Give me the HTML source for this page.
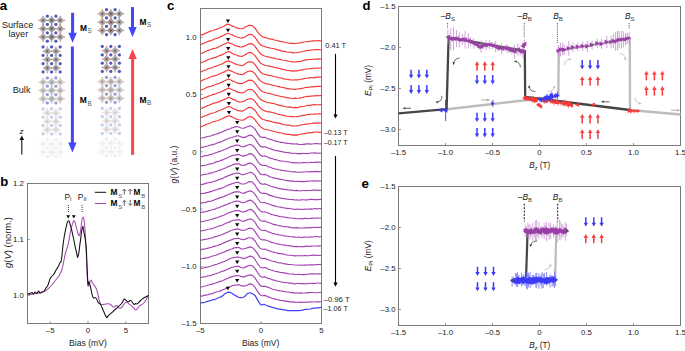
<!DOCTYPE html>
<html><head><meta charset="utf-8"><style>
html,body{margin:0;padding:0;background:#fff;}
body{width:685px;height:351px;overflow:hidden;}
svg{display:block;}
text{font-family:"Liberation Sans",sans-serif;}
</style></head><body>
<svg width="685" height="351" viewBox="0 0 685 351">
<rect width="685" height="351" fill="#fff"/>
<text x="-0.3" y="9.8" font-size="12.5" text-anchor="start" font-weight="bold" fill="#000" font-family="'Liberation Sans', sans-serif"  textLength="7.4" lengthAdjust="spacingAndGlyphs">a</text>
<text x="0.2" y="186.3" font-size="12.5" text-anchor="start" font-weight="bold" fill="#000" font-family="'Liberation Sans', sans-serif"  textLength="8" lengthAdjust="spacingAndGlyphs">b</text>
<text x="167" y="9.9" font-size="12.5" text-anchor="start" font-weight="bold" fill="#000" font-family="'Liberation Sans', sans-serif"  textLength="7.4" lengthAdjust="spacingAndGlyphs">c</text>
<text x="362.6" y="9.5" font-size="12.5" text-anchor="start" font-weight="bold" fill="#000" font-family="'Liberation Sans', sans-serif"  textLength="8" lengthAdjust="spacingAndGlyphs">d</text>
<text x="361.4" y="188" font-size="12.5" text-anchor="start" font-weight="bold" fill="#000" font-family="'Liberation Sans', sans-serif"  textLength="7.4" lengthAdjust="spacingAndGlyphs">e</text>
<text x="1.9" y="27.9" font-size="8.8" text-anchor="start" font-weight="normal" fill="#222" font-family="'Liberation Sans', sans-serif"  textLength="31.4" lengthAdjust="spacingAndGlyphs">Surface</text>
<text x="8.4" y="37" font-size="8.8" text-anchor="start" font-weight="normal" fill="#222" font-family="'Liberation Sans', sans-serif"  textLength="19.8" lengthAdjust="spacingAndGlyphs">layer</text>
<text x="12.7" y="93" font-size="8.8" text-anchor="start" font-weight="normal" fill="#222" font-family="'Liberation Sans', sans-serif"  textLength="17.8" lengthAdjust="spacingAndGlyphs">Bulk</text>
<text x="21.6" y="133.8" font-size="8" text-anchor="middle" font-weight="normal" fill="#111" font-family="'Liberation Sans', sans-serif" font-style="italic">z</text>
<line x1="21.8" y1="154.4" x2="21.8" y2="139" stroke="#111" stroke-width="1.1"/>
<polygon points="19.5,140 24.1,140 21.8,135.6" fill="#111"/>
<defs><radialGradient id="dg" cx="50%" cy="50%" r="62%"><stop offset="0" stop-color="#8c8c8c"/><stop offset="0.5" stop-color="#b0b0b0"/><stop offset="1" stop-color="#d4d4d4"/></radialGradient><radialGradient id="dg2" cx="50%" cy="50%" r="62%"><stop offset="0" stop-color="#767676"/><stop offset="0.5" stop-color="#9e9e9e"/><stop offset="1" stop-color="#c6c6c6"/></radialGradient><radialGradient id="bg" cx="45%" cy="40%" r="60%"><stop offset="0" stop-color="#4d5ec2"/><stop offset="0.55" stop-color="#4a5bbb"/><stop offset="1" stop-color="#9ba6da"/></radialGradient></defs>
<g opacity="1"><circle cx="47.37" cy="16.2" r="1.75" fill="url(#bg)"/><circle cx="55.92" cy="16.2" r="1.75" fill="url(#bg)"/><polygon points="43.1,16.17 47.3,20.37 43.1,24.57 38.9,20.37" fill="url(#dg)"/><circle cx="43.1" cy="20.37" r="0.8" fill="#7a3030"/><ellipse cx="43.1" cy="16.17" rx="0.7" ry="0.5" fill="#e25858"/><ellipse cx="43.1" cy="24.57" rx="0.7" ry="0.5" fill="#e25858"/><ellipse cx="38.9" cy="20.37" rx="0.7" ry="0.5" fill="#e25858"/><ellipse cx="47.3" cy="20.37" rx="0.7" ry="0.5" fill="#e25858"/><polygon points="51.65,16.17 55.85,20.37 51.65,24.57 47.45,20.37" fill="url(#dg2)"/><circle cx="51.65" cy="20.37" r="0.8" fill="#7a3030"/><ellipse cx="51.65" cy="16.17" rx="0.7" ry="0.5" fill="#e25858"/><ellipse cx="51.65" cy="24.57" rx="0.7" ry="0.5" fill="#e25858"/><ellipse cx="47.45" cy="20.37" rx="0.7" ry="0.5" fill="#e25858"/><ellipse cx="55.85" cy="20.37" rx="0.7" ry="0.5" fill="#e25858"/><polygon points="60.2,16.17 64.4,20.37 60.2,24.57 56,20.37" fill="url(#dg)"/><circle cx="60.2" cy="20.37" r="0.8" fill="#7a3030"/><ellipse cx="60.2" cy="16.17" rx="0.7" ry="0.5" fill="#e25858"/><ellipse cx="60.2" cy="24.57" rx="0.7" ry="0.5" fill="#e25858"/><ellipse cx="56" cy="20.37" rx="0.7" ry="0.5" fill="#e25858"/><ellipse cx="64.4" cy="20.37" rx="0.7" ry="0.5" fill="#e25858"/><circle cx="47.37" cy="24.54" r="1.75" fill="url(#bg)"/><circle cx="55.92" cy="24.54" r="1.75" fill="url(#bg)"/><polygon points="43.1,24.51 47.3,28.71 43.1,32.91 38.9,28.71" fill="url(#dg)"/><circle cx="43.1" cy="28.71" r="0.8" fill="#7a3030"/><ellipse cx="43.1" cy="24.51" rx="0.7" ry="0.5" fill="#e25858"/><ellipse cx="43.1" cy="32.91" rx="0.7" ry="0.5" fill="#e25858"/><ellipse cx="38.9" cy="28.71" rx="0.7" ry="0.5" fill="#e25858"/><ellipse cx="47.3" cy="28.71" rx="0.7" ry="0.5" fill="#e25858"/><polygon points="51.65,24.51 55.85,28.71 51.65,32.91 47.45,28.71" fill="url(#dg2)"/><circle cx="51.65" cy="28.71" r="0.8" fill="#7a3030"/><ellipse cx="51.65" cy="24.51" rx="0.7" ry="0.5" fill="#e25858"/><ellipse cx="51.65" cy="32.91" rx="0.7" ry="0.5" fill="#e25858"/><ellipse cx="47.45" cy="28.71" rx="0.7" ry="0.5" fill="#e25858"/><ellipse cx="55.85" cy="28.71" rx="0.7" ry="0.5" fill="#e25858"/><polygon points="60.2,24.51 64.4,28.71 60.2,32.91 56,28.71" fill="url(#dg)"/><circle cx="60.2" cy="28.71" r="0.8" fill="#7a3030"/><ellipse cx="60.2" cy="24.51" rx="0.7" ry="0.5" fill="#e25858"/><ellipse cx="60.2" cy="32.91" rx="0.7" ry="0.5" fill="#e25858"/><ellipse cx="56" cy="28.71" rx="0.7" ry="0.5" fill="#e25858"/><ellipse cx="64.4" cy="28.71" rx="0.7" ry="0.5" fill="#e25858"/><circle cx="47.37" cy="32.88" r="1.75" fill="url(#bg)"/><circle cx="55.92" cy="32.88" r="1.75" fill="url(#bg)"/><polygon points="43.1,32.85 47.3,37.05 43.1,41.25 38.9,37.05" fill="url(#dg)"/><circle cx="43.1" cy="37.05" r="0.8" fill="#7a3030"/><ellipse cx="43.1" cy="32.85" rx="0.7" ry="0.5" fill="#e25858"/><ellipse cx="43.1" cy="41.25" rx="0.7" ry="0.5" fill="#e25858"/><ellipse cx="38.9" cy="37.05" rx="0.7" ry="0.5" fill="#e25858"/><ellipse cx="47.3" cy="37.05" rx="0.7" ry="0.5" fill="#e25858"/><polygon points="51.65,32.85 55.85,37.05 51.65,41.25 47.45,37.05" fill="url(#dg2)"/><circle cx="51.65" cy="37.05" r="0.8" fill="#7a3030"/><ellipse cx="51.65" cy="32.85" rx="0.7" ry="0.5" fill="#e25858"/><ellipse cx="51.65" cy="41.25" rx="0.7" ry="0.5" fill="#e25858"/><ellipse cx="47.45" cy="37.05" rx="0.7" ry="0.5" fill="#e25858"/><ellipse cx="55.85" cy="37.05" rx="0.7" ry="0.5" fill="#e25858"/><polygon points="60.2,32.85 64.4,37.05 60.2,41.25 56,37.05" fill="url(#dg)"/><circle cx="60.2" cy="37.05" r="0.8" fill="#7a3030"/><ellipse cx="60.2" cy="32.85" rx="0.7" ry="0.5" fill="#e25858"/><ellipse cx="60.2" cy="41.25" rx="0.7" ry="0.5" fill="#e25858"/><ellipse cx="56" cy="37.05" rx="0.7" ry="0.5" fill="#e25858"/><ellipse cx="64.4" cy="37.05" rx="0.7" ry="0.5" fill="#e25858"/><circle cx="47.37" cy="41.22" r="1.75" fill="url(#bg)"/><circle cx="55.92" cy="41.22" r="1.75" fill="url(#bg)"/></g>
<g opacity="1"><circle cx="106.57" cy="9.7" r="1.75" fill="url(#bg)"/><circle cx="115.12" cy="9.7" r="1.75" fill="url(#bg)"/><polygon points="102.3,9.67 106.5,13.87 102.3,18.07 98.1,13.87" fill="url(#dg)"/><circle cx="102.3" cy="13.87" r="0.8" fill="#7a3030"/><ellipse cx="102.3" cy="9.67" rx="0.7" ry="0.5" fill="#e25858"/><ellipse cx="102.3" cy="18.07" rx="0.7" ry="0.5" fill="#e25858"/><ellipse cx="98.1" cy="13.87" rx="0.7" ry="0.5" fill="#e25858"/><ellipse cx="106.5" cy="13.87" rx="0.7" ry="0.5" fill="#e25858"/><polygon points="110.85,9.67 115.05,13.87 110.85,18.07 106.65,13.87" fill="url(#dg2)"/><circle cx="110.85" cy="13.87" r="0.8" fill="#7a3030"/><ellipse cx="110.85" cy="9.67" rx="0.7" ry="0.5" fill="#e25858"/><ellipse cx="110.85" cy="18.07" rx="0.7" ry="0.5" fill="#e25858"/><ellipse cx="106.65" cy="13.87" rx="0.7" ry="0.5" fill="#e25858"/><ellipse cx="115.05" cy="13.87" rx="0.7" ry="0.5" fill="#e25858"/><polygon points="119.4,9.67 123.6,13.87 119.4,18.07 115.2,13.87" fill="url(#dg)"/><circle cx="119.4" cy="13.87" r="0.8" fill="#7a3030"/><ellipse cx="119.4" cy="9.67" rx="0.7" ry="0.5" fill="#e25858"/><ellipse cx="119.4" cy="18.07" rx="0.7" ry="0.5" fill="#e25858"/><ellipse cx="115.2" cy="13.87" rx="0.7" ry="0.5" fill="#e25858"/><ellipse cx="123.6" cy="13.87" rx="0.7" ry="0.5" fill="#e25858"/><circle cx="106.57" cy="18.04" r="1.75" fill="url(#bg)"/><circle cx="115.12" cy="18.04" r="1.75" fill="url(#bg)"/><polygon points="102.3,18.01 106.5,22.21 102.3,26.41 98.1,22.21" fill="url(#dg)"/><circle cx="102.3" cy="22.21" r="0.8" fill="#7a3030"/><ellipse cx="102.3" cy="18.01" rx="0.7" ry="0.5" fill="#e25858"/><ellipse cx="102.3" cy="26.41" rx="0.7" ry="0.5" fill="#e25858"/><ellipse cx="98.1" cy="22.21" rx="0.7" ry="0.5" fill="#e25858"/><ellipse cx="106.5" cy="22.21" rx="0.7" ry="0.5" fill="#e25858"/><polygon points="110.85,18.01 115.05,22.21 110.85,26.41 106.65,22.21" fill="url(#dg2)"/><circle cx="110.85" cy="22.21" r="0.8" fill="#7a3030"/><ellipse cx="110.85" cy="18.01" rx="0.7" ry="0.5" fill="#e25858"/><ellipse cx="110.85" cy="26.41" rx="0.7" ry="0.5" fill="#e25858"/><ellipse cx="106.65" cy="22.21" rx="0.7" ry="0.5" fill="#e25858"/><ellipse cx="115.05" cy="22.21" rx="0.7" ry="0.5" fill="#e25858"/><polygon points="119.4,18.01 123.6,22.21 119.4,26.41 115.2,22.21" fill="url(#dg)"/><circle cx="119.4" cy="22.21" r="0.8" fill="#7a3030"/><ellipse cx="119.4" cy="18.01" rx="0.7" ry="0.5" fill="#e25858"/><ellipse cx="119.4" cy="26.41" rx="0.7" ry="0.5" fill="#e25858"/><ellipse cx="115.2" cy="22.21" rx="0.7" ry="0.5" fill="#e25858"/><ellipse cx="123.6" cy="22.21" rx="0.7" ry="0.5" fill="#e25858"/><circle cx="106.57" cy="26.38" r="1.75" fill="url(#bg)"/><circle cx="115.12" cy="26.38" r="1.75" fill="url(#bg)"/><polygon points="102.3,26.35 106.5,30.55 102.3,34.75 98.1,30.55" fill="url(#dg)"/><circle cx="102.3" cy="30.55" r="0.8" fill="#7a3030"/><ellipse cx="102.3" cy="26.35" rx="0.7" ry="0.5" fill="#e25858"/><ellipse cx="102.3" cy="34.75" rx="0.7" ry="0.5" fill="#e25858"/><ellipse cx="98.1" cy="30.55" rx="0.7" ry="0.5" fill="#e25858"/><ellipse cx="106.5" cy="30.55" rx="0.7" ry="0.5" fill="#e25858"/><polygon points="110.85,26.35 115.05,30.55 110.85,34.75 106.65,30.55" fill="url(#dg2)"/><circle cx="110.85" cy="30.55" r="0.8" fill="#7a3030"/><ellipse cx="110.85" cy="26.35" rx="0.7" ry="0.5" fill="#e25858"/><ellipse cx="110.85" cy="34.75" rx="0.7" ry="0.5" fill="#e25858"/><ellipse cx="106.65" cy="30.55" rx="0.7" ry="0.5" fill="#e25858"/><ellipse cx="115.05" cy="30.55" rx="0.7" ry="0.5" fill="#e25858"/><polygon points="119.4,26.35 123.6,30.55 119.4,34.75 115.2,30.55" fill="url(#dg)"/><circle cx="119.4" cy="30.55" r="0.8" fill="#7a3030"/><ellipse cx="119.4" cy="26.35" rx="0.7" ry="0.5" fill="#e25858"/><ellipse cx="119.4" cy="34.75" rx="0.7" ry="0.5" fill="#e25858"/><ellipse cx="115.2" cy="30.55" rx="0.7" ry="0.5" fill="#e25858"/><ellipse cx="123.6" cy="30.55" rx="0.7" ry="0.5" fill="#e25858"/><circle cx="106.57" cy="34.72" r="1.75" fill="url(#bg)"/><circle cx="115.12" cy="34.72" r="1.75" fill="url(#bg)"/></g>
<g opacity="1"><circle cx="43.1" cy="47.1" r="1.75" fill="url(#bg)"/><circle cx="51.65" cy="47.1" r="1.75" fill="url(#bg)"/><circle cx="60.2" cy="47.1" r="1.75" fill="url(#bg)"/><polygon points="47.37,47.07 51.57,51.27 47.37,55.47 43.17,51.27" fill="url(#dg)"/><circle cx="47.37" cy="51.27" r="0.8" fill="#7a3030"/><ellipse cx="47.37" cy="47.07" rx="0.7" ry="0.5" fill="#e25858"/><ellipse cx="47.37" cy="55.47" rx="0.7" ry="0.5" fill="#e25858"/><ellipse cx="43.17" cy="51.27" rx="0.7" ry="0.5" fill="#e25858"/><ellipse cx="51.57" cy="51.27" rx="0.7" ry="0.5" fill="#e25858"/><polygon points="55.92,47.07 60.12,51.27 55.92,55.47 51.72,51.27" fill="url(#dg)"/><circle cx="55.92" cy="51.27" r="0.8" fill="#7a3030"/><ellipse cx="55.92" cy="47.07" rx="0.7" ry="0.5" fill="#e25858"/><ellipse cx="55.92" cy="55.47" rx="0.7" ry="0.5" fill="#e25858"/><ellipse cx="51.72" cy="51.27" rx="0.7" ry="0.5" fill="#e25858"/><ellipse cx="60.12" cy="51.27" rx="0.7" ry="0.5" fill="#e25858"/><circle cx="43.1" cy="55.44" r="1.75" fill="url(#bg)"/><circle cx="51.65" cy="55.44" r="1.75" fill="url(#bg)"/><circle cx="60.2" cy="55.44" r="1.75" fill="url(#bg)"/><polygon points="47.37,55.41 51.57,59.61 47.37,63.81 43.17,59.61" fill="url(#dg)"/><circle cx="47.37" cy="59.61" r="0.8" fill="#7a3030"/><ellipse cx="47.37" cy="55.41" rx="0.7" ry="0.5" fill="#e25858"/><ellipse cx="47.37" cy="63.81" rx="0.7" ry="0.5" fill="#e25858"/><ellipse cx="43.17" cy="59.61" rx="0.7" ry="0.5" fill="#e25858"/><ellipse cx="51.57" cy="59.61" rx="0.7" ry="0.5" fill="#e25858"/><polygon points="55.92,55.41 60.12,59.61 55.92,63.81 51.72,59.61" fill="url(#dg)"/><circle cx="55.92" cy="59.61" r="0.8" fill="#7a3030"/><ellipse cx="55.92" cy="55.41" rx="0.7" ry="0.5" fill="#e25858"/><ellipse cx="55.92" cy="63.81" rx="0.7" ry="0.5" fill="#e25858"/><ellipse cx="51.72" cy="59.61" rx="0.7" ry="0.5" fill="#e25858"/><ellipse cx="60.12" cy="59.61" rx="0.7" ry="0.5" fill="#e25858"/><circle cx="43.1" cy="63.78" r="1.75" fill="url(#bg)"/><circle cx="51.65" cy="63.78" r="1.75" fill="url(#bg)"/><circle cx="60.2" cy="63.78" r="1.75" fill="url(#bg)"/><polygon points="47.37,63.75 51.57,67.95 47.37,72.15 43.17,67.95" fill="url(#dg)"/><circle cx="47.37" cy="67.95" r="0.8" fill="#7a3030"/><ellipse cx="47.37" cy="63.75" rx="0.7" ry="0.5" fill="#e25858"/><ellipse cx="47.37" cy="72.15" rx="0.7" ry="0.5" fill="#e25858"/><ellipse cx="43.17" cy="67.95" rx="0.7" ry="0.5" fill="#e25858"/><ellipse cx="51.57" cy="67.95" rx="0.7" ry="0.5" fill="#e25858"/><polygon points="55.92,63.75 60.12,67.95 55.92,72.15 51.72,67.95" fill="url(#dg)"/><circle cx="55.92" cy="67.95" r="0.8" fill="#7a3030"/><ellipse cx="55.92" cy="63.75" rx="0.7" ry="0.5" fill="#e25858"/><ellipse cx="55.92" cy="72.15" rx="0.7" ry="0.5" fill="#e25858"/><ellipse cx="51.72" cy="67.95" rx="0.7" ry="0.5" fill="#e25858"/><ellipse cx="60.12" cy="67.95" rx="0.7" ry="0.5" fill="#e25858"/><circle cx="43.1" cy="72.12" r="1.75" fill="url(#bg)"/><circle cx="51.65" cy="72.12" r="1.75" fill="url(#bg)"/><circle cx="60.2" cy="72.12" r="1.75" fill="url(#bg)"/></g>
<g opacity="1"><circle cx="102.3" cy="46.6" r="1.75" fill="url(#bg)"/><circle cx="110.85" cy="46.6" r="1.75" fill="url(#bg)"/><circle cx="119.4" cy="46.6" r="1.75" fill="url(#bg)"/><polygon points="106.57,46.57 110.77,50.77 106.57,54.97 102.37,50.77" fill="url(#dg)"/><circle cx="106.57" cy="50.77" r="0.8" fill="#7a3030"/><ellipse cx="106.57" cy="46.57" rx="0.7" ry="0.5" fill="#e25858"/><ellipse cx="106.57" cy="54.97" rx="0.7" ry="0.5" fill="#e25858"/><ellipse cx="102.37" cy="50.77" rx="0.7" ry="0.5" fill="#e25858"/><ellipse cx="110.77" cy="50.77" rx="0.7" ry="0.5" fill="#e25858"/><polygon points="115.12,46.57 119.32,50.77 115.12,54.97 110.92,50.77" fill="url(#dg)"/><circle cx="115.12" cy="50.77" r="0.8" fill="#7a3030"/><ellipse cx="115.12" cy="46.57" rx="0.7" ry="0.5" fill="#e25858"/><ellipse cx="115.12" cy="54.97" rx="0.7" ry="0.5" fill="#e25858"/><ellipse cx="110.92" cy="50.77" rx="0.7" ry="0.5" fill="#e25858"/><ellipse cx="119.32" cy="50.77" rx="0.7" ry="0.5" fill="#e25858"/><circle cx="102.3" cy="54.94" r="1.75" fill="url(#bg)"/><circle cx="110.85" cy="54.94" r="1.75" fill="url(#bg)"/><circle cx="119.4" cy="54.94" r="1.75" fill="url(#bg)"/><polygon points="106.57,54.91 110.77,59.11 106.57,63.31 102.37,59.11" fill="url(#dg)"/><circle cx="106.57" cy="59.11" r="0.8" fill="#7a3030"/><ellipse cx="106.57" cy="54.91" rx="0.7" ry="0.5" fill="#e25858"/><ellipse cx="106.57" cy="63.31" rx="0.7" ry="0.5" fill="#e25858"/><ellipse cx="102.37" cy="59.11" rx="0.7" ry="0.5" fill="#e25858"/><ellipse cx="110.77" cy="59.11" rx="0.7" ry="0.5" fill="#e25858"/><polygon points="115.12,54.91 119.32,59.11 115.12,63.31 110.92,59.11" fill="url(#dg)"/><circle cx="115.12" cy="59.11" r="0.8" fill="#7a3030"/><ellipse cx="115.12" cy="54.91" rx="0.7" ry="0.5" fill="#e25858"/><ellipse cx="115.12" cy="63.31" rx="0.7" ry="0.5" fill="#e25858"/><ellipse cx="110.92" cy="59.11" rx="0.7" ry="0.5" fill="#e25858"/><ellipse cx="119.32" cy="59.11" rx="0.7" ry="0.5" fill="#e25858"/><circle cx="102.3" cy="63.28" r="1.75" fill="url(#bg)"/><circle cx="110.85" cy="63.28" r="1.75" fill="url(#bg)"/><circle cx="119.4" cy="63.28" r="1.75" fill="url(#bg)"/><polygon points="106.57,63.25 110.77,67.45 106.57,71.65 102.37,67.45" fill="url(#dg)"/><circle cx="106.57" cy="67.45" r="0.8" fill="#7a3030"/><ellipse cx="106.57" cy="63.25" rx="0.7" ry="0.5" fill="#e25858"/><ellipse cx="106.57" cy="71.65" rx="0.7" ry="0.5" fill="#e25858"/><ellipse cx="102.37" cy="67.45" rx="0.7" ry="0.5" fill="#e25858"/><ellipse cx="110.77" cy="67.45" rx="0.7" ry="0.5" fill="#e25858"/><polygon points="115.12,63.25 119.32,67.45 115.12,71.65 110.92,67.45" fill="url(#dg)"/><circle cx="115.12" cy="67.45" r="0.8" fill="#7a3030"/><ellipse cx="115.12" cy="63.25" rx="0.7" ry="0.5" fill="#e25858"/><ellipse cx="115.12" cy="71.65" rx="0.7" ry="0.5" fill="#e25858"/><ellipse cx="110.92" cy="67.45" rx="0.7" ry="0.5" fill="#e25858"/><ellipse cx="119.32" cy="67.45" rx="0.7" ry="0.5" fill="#e25858"/><circle cx="102.3" cy="71.62" r="1.75" fill="url(#bg)"/><circle cx="110.85" cy="71.62" r="1.75" fill="url(#bg)"/><circle cx="119.4" cy="71.62" r="1.75" fill="url(#bg)"/></g>
<g opacity="0.6"><circle cx="47.37" cy="78" r="1.75" fill="url(#bg)"/><circle cx="55.92" cy="78" r="1.75" fill="url(#bg)"/><polygon points="43.1,77.97 47.3,82.17 43.1,86.37 38.9,82.17" fill="url(#dg)"/><circle cx="43.1" cy="82.17" r="0.8" fill="#7a3030"/><ellipse cx="43.1" cy="77.97" rx="0.7" ry="0.5" fill="#e25858"/><ellipse cx="43.1" cy="86.37" rx="0.7" ry="0.5" fill="#e25858"/><ellipse cx="38.9" cy="82.17" rx="0.7" ry="0.5" fill="#e25858"/><ellipse cx="47.3" cy="82.17" rx="0.7" ry="0.5" fill="#e25858"/><polygon points="51.65,77.97 55.85,82.17 51.65,86.37 47.45,82.17" fill="url(#dg2)"/><circle cx="51.65" cy="82.17" r="0.8" fill="#7a3030"/><ellipse cx="51.65" cy="77.97" rx="0.7" ry="0.5" fill="#e25858"/><ellipse cx="51.65" cy="86.37" rx="0.7" ry="0.5" fill="#e25858"/><ellipse cx="47.45" cy="82.17" rx="0.7" ry="0.5" fill="#e25858"/><ellipse cx="55.85" cy="82.17" rx="0.7" ry="0.5" fill="#e25858"/><polygon points="60.2,77.97 64.4,82.17 60.2,86.37 56,82.17" fill="url(#dg)"/><circle cx="60.2" cy="82.17" r="0.8" fill="#7a3030"/><ellipse cx="60.2" cy="77.97" rx="0.7" ry="0.5" fill="#e25858"/><ellipse cx="60.2" cy="86.37" rx="0.7" ry="0.5" fill="#e25858"/><ellipse cx="56" cy="82.17" rx="0.7" ry="0.5" fill="#e25858"/><ellipse cx="64.4" cy="82.17" rx="0.7" ry="0.5" fill="#e25858"/><circle cx="47.37" cy="86.34" r="1.75" fill="url(#bg)"/><circle cx="55.92" cy="86.34" r="1.75" fill="url(#bg)"/><polygon points="43.1,86.31 47.3,90.51 43.1,94.71 38.9,90.51" fill="url(#dg)"/><circle cx="43.1" cy="90.51" r="0.8" fill="#7a3030"/><ellipse cx="43.1" cy="86.31" rx="0.7" ry="0.5" fill="#e25858"/><ellipse cx="43.1" cy="94.71" rx="0.7" ry="0.5" fill="#e25858"/><ellipse cx="38.9" cy="90.51" rx="0.7" ry="0.5" fill="#e25858"/><ellipse cx="47.3" cy="90.51" rx="0.7" ry="0.5" fill="#e25858"/><polygon points="51.65,86.31 55.85,90.51 51.65,94.71 47.45,90.51" fill="url(#dg2)"/><circle cx="51.65" cy="90.51" r="0.8" fill="#7a3030"/><ellipse cx="51.65" cy="86.31" rx="0.7" ry="0.5" fill="#e25858"/><ellipse cx="51.65" cy="94.71" rx="0.7" ry="0.5" fill="#e25858"/><ellipse cx="47.45" cy="90.51" rx="0.7" ry="0.5" fill="#e25858"/><ellipse cx="55.85" cy="90.51" rx="0.7" ry="0.5" fill="#e25858"/><polygon points="60.2,86.31 64.4,90.51 60.2,94.71 56,90.51" fill="url(#dg)"/><circle cx="60.2" cy="90.51" r="0.8" fill="#7a3030"/><ellipse cx="60.2" cy="86.31" rx="0.7" ry="0.5" fill="#e25858"/><ellipse cx="60.2" cy="94.71" rx="0.7" ry="0.5" fill="#e25858"/><ellipse cx="56" cy="90.51" rx="0.7" ry="0.5" fill="#e25858"/><ellipse cx="64.4" cy="90.51" rx="0.7" ry="0.5" fill="#e25858"/><circle cx="47.37" cy="94.68" r="1.75" fill="url(#bg)"/><circle cx="55.92" cy="94.68" r="1.75" fill="url(#bg)"/><polygon points="43.1,94.65 47.3,98.85 43.1,103.05 38.9,98.85" fill="url(#dg)"/><circle cx="43.1" cy="98.85" r="0.8" fill="#7a3030"/><ellipse cx="43.1" cy="94.65" rx="0.7" ry="0.5" fill="#e25858"/><ellipse cx="43.1" cy="103.05" rx="0.7" ry="0.5" fill="#e25858"/><ellipse cx="38.9" cy="98.85" rx="0.7" ry="0.5" fill="#e25858"/><ellipse cx="47.3" cy="98.85" rx="0.7" ry="0.5" fill="#e25858"/><polygon points="51.65,94.65 55.85,98.85 51.65,103.05 47.45,98.85" fill="url(#dg2)"/><circle cx="51.65" cy="98.85" r="0.8" fill="#7a3030"/><ellipse cx="51.65" cy="94.65" rx="0.7" ry="0.5" fill="#e25858"/><ellipse cx="51.65" cy="103.05" rx="0.7" ry="0.5" fill="#e25858"/><ellipse cx="47.45" cy="98.85" rx="0.7" ry="0.5" fill="#e25858"/><ellipse cx="55.85" cy="98.85" rx="0.7" ry="0.5" fill="#e25858"/><polygon points="60.2,94.65 64.4,98.85 60.2,103.05 56,98.85" fill="url(#dg)"/><circle cx="60.2" cy="98.85" r="0.8" fill="#7a3030"/><ellipse cx="60.2" cy="94.65" rx="0.7" ry="0.5" fill="#e25858"/><ellipse cx="60.2" cy="103.05" rx="0.7" ry="0.5" fill="#e25858"/><ellipse cx="56" cy="98.85" rx="0.7" ry="0.5" fill="#e25858"/><ellipse cx="64.4" cy="98.85" rx="0.7" ry="0.5" fill="#e25858"/><circle cx="47.37" cy="103.02" r="1.75" fill="url(#bg)"/><circle cx="55.92" cy="103.02" r="1.75" fill="url(#bg)"/></g>
<g opacity="0.6"><circle cx="106.57" cy="77.5" r="1.75" fill="url(#bg)"/><circle cx="115.12" cy="77.5" r="1.75" fill="url(#bg)"/><polygon points="102.3,77.47 106.5,81.67 102.3,85.87 98.1,81.67" fill="url(#dg)"/><circle cx="102.3" cy="81.67" r="0.8" fill="#7a3030"/><ellipse cx="102.3" cy="77.47" rx="0.7" ry="0.5" fill="#e25858"/><ellipse cx="102.3" cy="85.87" rx="0.7" ry="0.5" fill="#e25858"/><ellipse cx="98.1" cy="81.67" rx="0.7" ry="0.5" fill="#e25858"/><ellipse cx="106.5" cy="81.67" rx="0.7" ry="0.5" fill="#e25858"/><polygon points="110.85,77.47 115.05,81.67 110.85,85.87 106.65,81.67" fill="url(#dg2)"/><circle cx="110.85" cy="81.67" r="0.8" fill="#7a3030"/><ellipse cx="110.85" cy="77.47" rx="0.7" ry="0.5" fill="#e25858"/><ellipse cx="110.85" cy="85.87" rx="0.7" ry="0.5" fill="#e25858"/><ellipse cx="106.65" cy="81.67" rx="0.7" ry="0.5" fill="#e25858"/><ellipse cx="115.05" cy="81.67" rx="0.7" ry="0.5" fill="#e25858"/><polygon points="119.4,77.47 123.6,81.67 119.4,85.87 115.2,81.67" fill="url(#dg)"/><circle cx="119.4" cy="81.67" r="0.8" fill="#7a3030"/><ellipse cx="119.4" cy="77.47" rx="0.7" ry="0.5" fill="#e25858"/><ellipse cx="119.4" cy="85.87" rx="0.7" ry="0.5" fill="#e25858"/><ellipse cx="115.2" cy="81.67" rx="0.7" ry="0.5" fill="#e25858"/><ellipse cx="123.6" cy="81.67" rx="0.7" ry="0.5" fill="#e25858"/><circle cx="106.57" cy="85.84" r="1.75" fill="url(#bg)"/><circle cx="115.12" cy="85.84" r="1.75" fill="url(#bg)"/><polygon points="102.3,85.81 106.5,90.01 102.3,94.21 98.1,90.01" fill="url(#dg)"/><circle cx="102.3" cy="90.01" r="0.8" fill="#7a3030"/><ellipse cx="102.3" cy="85.81" rx="0.7" ry="0.5" fill="#e25858"/><ellipse cx="102.3" cy="94.21" rx="0.7" ry="0.5" fill="#e25858"/><ellipse cx="98.1" cy="90.01" rx="0.7" ry="0.5" fill="#e25858"/><ellipse cx="106.5" cy="90.01" rx="0.7" ry="0.5" fill="#e25858"/><polygon points="110.85,85.81 115.05,90.01 110.85,94.21 106.65,90.01" fill="url(#dg2)"/><circle cx="110.85" cy="90.01" r="0.8" fill="#7a3030"/><ellipse cx="110.85" cy="85.81" rx="0.7" ry="0.5" fill="#e25858"/><ellipse cx="110.85" cy="94.21" rx="0.7" ry="0.5" fill="#e25858"/><ellipse cx="106.65" cy="90.01" rx="0.7" ry="0.5" fill="#e25858"/><ellipse cx="115.05" cy="90.01" rx="0.7" ry="0.5" fill="#e25858"/><polygon points="119.4,85.81 123.6,90.01 119.4,94.21 115.2,90.01" fill="url(#dg)"/><circle cx="119.4" cy="90.01" r="0.8" fill="#7a3030"/><ellipse cx="119.4" cy="85.81" rx="0.7" ry="0.5" fill="#e25858"/><ellipse cx="119.4" cy="94.21" rx="0.7" ry="0.5" fill="#e25858"/><ellipse cx="115.2" cy="90.01" rx="0.7" ry="0.5" fill="#e25858"/><ellipse cx="123.6" cy="90.01" rx="0.7" ry="0.5" fill="#e25858"/><circle cx="106.57" cy="94.18" r="1.75" fill="url(#bg)"/><circle cx="115.12" cy="94.18" r="1.75" fill="url(#bg)"/><polygon points="102.3,94.15 106.5,98.35 102.3,102.55 98.1,98.35" fill="url(#dg)"/><circle cx="102.3" cy="98.35" r="0.8" fill="#7a3030"/><ellipse cx="102.3" cy="94.15" rx="0.7" ry="0.5" fill="#e25858"/><ellipse cx="102.3" cy="102.55" rx="0.7" ry="0.5" fill="#e25858"/><ellipse cx="98.1" cy="98.35" rx="0.7" ry="0.5" fill="#e25858"/><ellipse cx="106.5" cy="98.35" rx="0.7" ry="0.5" fill="#e25858"/><polygon points="110.85,94.15 115.05,98.35 110.85,102.55 106.65,98.35" fill="url(#dg2)"/><circle cx="110.85" cy="98.35" r="0.8" fill="#7a3030"/><ellipse cx="110.85" cy="94.15" rx="0.7" ry="0.5" fill="#e25858"/><ellipse cx="110.85" cy="102.55" rx="0.7" ry="0.5" fill="#e25858"/><ellipse cx="106.65" cy="98.35" rx="0.7" ry="0.5" fill="#e25858"/><ellipse cx="115.05" cy="98.35" rx="0.7" ry="0.5" fill="#e25858"/><polygon points="119.4,94.15 123.6,98.35 119.4,102.55 115.2,98.35" fill="url(#dg)"/><circle cx="119.4" cy="98.35" r="0.8" fill="#7a3030"/><ellipse cx="119.4" cy="94.15" rx="0.7" ry="0.5" fill="#e25858"/><ellipse cx="119.4" cy="102.55" rx="0.7" ry="0.5" fill="#e25858"/><ellipse cx="115.2" cy="98.35" rx="0.7" ry="0.5" fill="#e25858"/><ellipse cx="123.6" cy="98.35" rx="0.7" ry="0.5" fill="#e25858"/><circle cx="106.57" cy="102.52" r="1.75" fill="url(#bg)"/><circle cx="115.12" cy="102.52" r="1.75" fill="url(#bg)"/></g>
<g opacity="0.32"><circle cx="43.1" cy="108.9" r="1.75" fill="url(#bg)"/><circle cx="51.65" cy="108.9" r="1.75" fill="url(#bg)"/><circle cx="60.2" cy="108.9" r="1.75" fill="url(#bg)"/><polygon points="47.37,108.87 51.57,113.07 47.37,117.27 43.17,113.07" fill="url(#dg)"/><circle cx="47.37" cy="113.07" r="0.8" fill="#7a3030"/><ellipse cx="47.37" cy="108.87" rx="0.7" ry="0.5" fill="#e25858"/><ellipse cx="47.37" cy="117.27" rx="0.7" ry="0.5" fill="#e25858"/><ellipse cx="43.17" cy="113.07" rx="0.7" ry="0.5" fill="#e25858"/><ellipse cx="51.57" cy="113.07" rx="0.7" ry="0.5" fill="#e25858"/><polygon points="55.92,108.87 60.12,113.07 55.92,117.27 51.72,113.07" fill="url(#dg)"/><circle cx="55.92" cy="113.07" r="0.8" fill="#7a3030"/><ellipse cx="55.92" cy="108.87" rx="0.7" ry="0.5" fill="#e25858"/><ellipse cx="55.92" cy="117.27" rx="0.7" ry="0.5" fill="#e25858"/><ellipse cx="51.72" cy="113.07" rx="0.7" ry="0.5" fill="#e25858"/><ellipse cx="60.12" cy="113.07" rx="0.7" ry="0.5" fill="#e25858"/><circle cx="43.1" cy="117.24" r="1.75" fill="url(#bg)"/><circle cx="51.65" cy="117.24" r="1.75" fill="url(#bg)"/><circle cx="60.2" cy="117.24" r="1.75" fill="url(#bg)"/><polygon points="47.37,117.21 51.57,121.41 47.37,125.61 43.17,121.41" fill="url(#dg)"/><circle cx="47.37" cy="121.41" r="0.8" fill="#7a3030"/><ellipse cx="47.37" cy="117.21" rx="0.7" ry="0.5" fill="#e25858"/><ellipse cx="47.37" cy="125.61" rx="0.7" ry="0.5" fill="#e25858"/><ellipse cx="43.17" cy="121.41" rx="0.7" ry="0.5" fill="#e25858"/><ellipse cx="51.57" cy="121.41" rx="0.7" ry="0.5" fill="#e25858"/><polygon points="55.92,117.21 60.12,121.41 55.92,125.61 51.72,121.41" fill="url(#dg)"/><circle cx="55.92" cy="121.41" r="0.8" fill="#7a3030"/><ellipse cx="55.92" cy="117.21" rx="0.7" ry="0.5" fill="#e25858"/><ellipse cx="55.92" cy="125.61" rx="0.7" ry="0.5" fill="#e25858"/><ellipse cx="51.72" cy="121.41" rx="0.7" ry="0.5" fill="#e25858"/><ellipse cx="60.12" cy="121.41" rx="0.7" ry="0.5" fill="#e25858"/><circle cx="43.1" cy="125.58" r="1.75" fill="url(#bg)"/><circle cx="51.65" cy="125.58" r="1.75" fill="url(#bg)"/><circle cx="60.2" cy="125.58" r="1.75" fill="url(#bg)"/><polygon points="47.37,125.55 51.57,129.75 47.37,133.95 43.17,129.75" fill="url(#dg)"/><circle cx="47.37" cy="129.75" r="0.8" fill="#7a3030"/><ellipse cx="47.37" cy="125.55" rx="0.7" ry="0.5" fill="#e25858"/><ellipse cx="47.37" cy="133.95" rx="0.7" ry="0.5" fill="#e25858"/><ellipse cx="43.17" cy="129.75" rx="0.7" ry="0.5" fill="#e25858"/><ellipse cx="51.57" cy="129.75" rx="0.7" ry="0.5" fill="#e25858"/><polygon points="55.92,125.55 60.12,129.75 55.92,133.95 51.72,129.75" fill="url(#dg)"/><circle cx="55.92" cy="129.75" r="0.8" fill="#7a3030"/><ellipse cx="55.92" cy="125.55" rx="0.7" ry="0.5" fill="#e25858"/><ellipse cx="55.92" cy="133.95" rx="0.7" ry="0.5" fill="#e25858"/><ellipse cx="51.72" cy="129.75" rx="0.7" ry="0.5" fill="#e25858"/><ellipse cx="60.12" cy="129.75" rx="0.7" ry="0.5" fill="#e25858"/><circle cx="43.1" cy="133.92" r="1.75" fill="url(#bg)"/><circle cx="51.65" cy="133.92" r="1.75" fill="url(#bg)"/><circle cx="60.2" cy="133.92" r="1.75" fill="url(#bg)"/></g>
<g opacity="0.32"><circle cx="102.3" cy="108.4" r="1.75" fill="url(#bg)"/><circle cx="110.85" cy="108.4" r="1.75" fill="url(#bg)"/><circle cx="119.4" cy="108.4" r="1.75" fill="url(#bg)"/><polygon points="106.57,108.37 110.77,112.57 106.57,116.77 102.37,112.57" fill="url(#dg)"/><circle cx="106.57" cy="112.57" r="0.8" fill="#7a3030"/><ellipse cx="106.57" cy="108.37" rx="0.7" ry="0.5" fill="#e25858"/><ellipse cx="106.57" cy="116.77" rx="0.7" ry="0.5" fill="#e25858"/><ellipse cx="102.37" cy="112.57" rx="0.7" ry="0.5" fill="#e25858"/><ellipse cx="110.77" cy="112.57" rx="0.7" ry="0.5" fill="#e25858"/><polygon points="115.12,108.37 119.32,112.57 115.12,116.77 110.92,112.57" fill="url(#dg)"/><circle cx="115.12" cy="112.57" r="0.8" fill="#7a3030"/><ellipse cx="115.12" cy="108.37" rx="0.7" ry="0.5" fill="#e25858"/><ellipse cx="115.12" cy="116.77" rx="0.7" ry="0.5" fill="#e25858"/><ellipse cx="110.92" cy="112.57" rx="0.7" ry="0.5" fill="#e25858"/><ellipse cx="119.32" cy="112.57" rx="0.7" ry="0.5" fill="#e25858"/><circle cx="102.3" cy="116.74" r="1.75" fill="url(#bg)"/><circle cx="110.85" cy="116.74" r="1.75" fill="url(#bg)"/><circle cx="119.4" cy="116.74" r="1.75" fill="url(#bg)"/><polygon points="106.57,116.71 110.77,120.91 106.57,125.11 102.37,120.91" fill="url(#dg)"/><circle cx="106.57" cy="120.91" r="0.8" fill="#7a3030"/><ellipse cx="106.57" cy="116.71" rx="0.7" ry="0.5" fill="#e25858"/><ellipse cx="106.57" cy="125.11" rx="0.7" ry="0.5" fill="#e25858"/><ellipse cx="102.37" cy="120.91" rx="0.7" ry="0.5" fill="#e25858"/><ellipse cx="110.77" cy="120.91" rx="0.7" ry="0.5" fill="#e25858"/><polygon points="115.12,116.71 119.32,120.91 115.12,125.11 110.92,120.91" fill="url(#dg)"/><circle cx="115.12" cy="120.91" r="0.8" fill="#7a3030"/><ellipse cx="115.12" cy="116.71" rx="0.7" ry="0.5" fill="#e25858"/><ellipse cx="115.12" cy="125.11" rx="0.7" ry="0.5" fill="#e25858"/><ellipse cx="110.92" cy="120.91" rx="0.7" ry="0.5" fill="#e25858"/><ellipse cx="119.32" cy="120.91" rx="0.7" ry="0.5" fill="#e25858"/><circle cx="102.3" cy="125.08" r="1.75" fill="url(#bg)"/><circle cx="110.85" cy="125.08" r="1.75" fill="url(#bg)"/><circle cx="119.4" cy="125.08" r="1.75" fill="url(#bg)"/><polygon points="106.57,125.05 110.77,129.25 106.57,133.45 102.37,129.25" fill="url(#dg)"/><circle cx="106.57" cy="129.25" r="0.8" fill="#7a3030"/><ellipse cx="106.57" cy="125.05" rx="0.7" ry="0.5" fill="#e25858"/><ellipse cx="106.57" cy="133.45" rx="0.7" ry="0.5" fill="#e25858"/><ellipse cx="102.37" cy="129.25" rx="0.7" ry="0.5" fill="#e25858"/><ellipse cx="110.77" cy="129.25" rx="0.7" ry="0.5" fill="#e25858"/><polygon points="115.12,125.05 119.32,129.25 115.12,133.45 110.92,129.25" fill="url(#dg)"/><circle cx="115.12" cy="129.25" r="0.8" fill="#7a3030"/><ellipse cx="115.12" cy="125.05" rx="0.7" ry="0.5" fill="#e25858"/><ellipse cx="115.12" cy="133.45" rx="0.7" ry="0.5" fill="#e25858"/><ellipse cx="110.92" cy="129.25" rx="0.7" ry="0.5" fill="#e25858"/><ellipse cx="119.32" cy="129.25" rx="0.7" ry="0.5" fill="#e25858"/><circle cx="102.3" cy="133.42" r="1.75" fill="url(#bg)"/><circle cx="110.85" cy="133.42" r="1.75" fill="url(#bg)"/><circle cx="119.4" cy="133.42" r="1.75" fill="url(#bg)"/></g>
<g opacity="0.11"><circle cx="47.37" cy="139.8" r="1.75" fill="url(#bg)"/><circle cx="55.92" cy="139.8" r="1.75" fill="url(#bg)"/><polygon points="43.1,139.77 47.3,143.97 43.1,148.17 38.9,143.97" fill="url(#dg)"/><circle cx="43.1" cy="143.97" r="0.8" fill="#7a3030"/><ellipse cx="43.1" cy="139.77" rx="0.7" ry="0.5" fill="#e25858"/><ellipse cx="43.1" cy="148.17" rx="0.7" ry="0.5" fill="#e25858"/><ellipse cx="38.9" cy="143.97" rx="0.7" ry="0.5" fill="#e25858"/><ellipse cx="47.3" cy="143.97" rx="0.7" ry="0.5" fill="#e25858"/><polygon points="51.65,139.77 55.85,143.97 51.65,148.17 47.45,143.97" fill="url(#dg2)"/><circle cx="51.65" cy="143.97" r="0.8" fill="#7a3030"/><ellipse cx="51.65" cy="139.77" rx="0.7" ry="0.5" fill="#e25858"/><ellipse cx="51.65" cy="148.17" rx="0.7" ry="0.5" fill="#e25858"/><ellipse cx="47.45" cy="143.97" rx="0.7" ry="0.5" fill="#e25858"/><ellipse cx="55.85" cy="143.97" rx="0.7" ry="0.5" fill="#e25858"/><polygon points="60.2,139.77 64.4,143.97 60.2,148.17 56,143.97" fill="url(#dg)"/><circle cx="60.2" cy="143.97" r="0.8" fill="#7a3030"/><ellipse cx="60.2" cy="139.77" rx="0.7" ry="0.5" fill="#e25858"/><ellipse cx="60.2" cy="148.17" rx="0.7" ry="0.5" fill="#e25858"/><ellipse cx="56" cy="143.97" rx="0.7" ry="0.5" fill="#e25858"/><ellipse cx="64.4" cy="143.97" rx="0.7" ry="0.5" fill="#e25858"/><circle cx="47.37" cy="148.14" r="1.75" fill="url(#bg)"/><circle cx="55.92" cy="148.14" r="1.75" fill="url(#bg)"/><polygon points="43.1,148.11 47.3,152.31 43.1,156.51 38.9,152.31" fill="url(#dg)"/><circle cx="43.1" cy="152.31" r="0.8" fill="#7a3030"/><ellipse cx="43.1" cy="148.11" rx="0.7" ry="0.5" fill="#e25858"/><ellipse cx="43.1" cy="156.51" rx="0.7" ry="0.5" fill="#e25858"/><ellipse cx="38.9" cy="152.31" rx="0.7" ry="0.5" fill="#e25858"/><ellipse cx="47.3" cy="152.31" rx="0.7" ry="0.5" fill="#e25858"/><polygon points="51.65,148.11 55.85,152.31 51.65,156.51 47.45,152.31" fill="url(#dg2)"/><circle cx="51.65" cy="152.31" r="0.8" fill="#7a3030"/><ellipse cx="51.65" cy="148.11" rx="0.7" ry="0.5" fill="#e25858"/><ellipse cx="51.65" cy="156.51" rx="0.7" ry="0.5" fill="#e25858"/><ellipse cx="47.45" cy="152.31" rx="0.7" ry="0.5" fill="#e25858"/><ellipse cx="55.85" cy="152.31" rx="0.7" ry="0.5" fill="#e25858"/><polygon points="60.2,148.11 64.4,152.31 60.2,156.51 56,152.31" fill="url(#dg)"/><circle cx="60.2" cy="152.31" r="0.8" fill="#7a3030"/><ellipse cx="60.2" cy="148.11" rx="0.7" ry="0.5" fill="#e25858"/><ellipse cx="60.2" cy="156.51" rx="0.7" ry="0.5" fill="#e25858"/><ellipse cx="56" cy="152.31" rx="0.7" ry="0.5" fill="#e25858"/><ellipse cx="64.4" cy="152.31" rx="0.7" ry="0.5" fill="#e25858"/><circle cx="47.37" cy="156.48" r="1.75" fill="url(#bg)"/><circle cx="55.92" cy="156.48" r="1.75" fill="url(#bg)"/></g>
<g opacity="0.11"><circle cx="106.57" cy="139.3" r="1.75" fill="url(#bg)"/><circle cx="115.12" cy="139.3" r="1.75" fill="url(#bg)"/><polygon points="102.3,139.27 106.5,143.47 102.3,147.67 98.1,143.47" fill="url(#dg)"/><circle cx="102.3" cy="143.47" r="0.8" fill="#7a3030"/><ellipse cx="102.3" cy="139.27" rx="0.7" ry="0.5" fill="#e25858"/><ellipse cx="102.3" cy="147.67" rx="0.7" ry="0.5" fill="#e25858"/><ellipse cx="98.1" cy="143.47" rx="0.7" ry="0.5" fill="#e25858"/><ellipse cx="106.5" cy="143.47" rx="0.7" ry="0.5" fill="#e25858"/><polygon points="110.85,139.27 115.05,143.47 110.85,147.67 106.65,143.47" fill="url(#dg2)"/><circle cx="110.85" cy="143.47" r="0.8" fill="#7a3030"/><ellipse cx="110.85" cy="139.27" rx="0.7" ry="0.5" fill="#e25858"/><ellipse cx="110.85" cy="147.67" rx="0.7" ry="0.5" fill="#e25858"/><ellipse cx="106.65" cy="143.47" rx="0.7" ry="0.5" fill="#e25858"/><ellipse cx="115.05" cy="143.47" rx="0.7" ry="0.5" fill="#e25858"/><polygon points="119.4,139.27 123.6,143.47 119.4,147.67 115.2,143.47" fill="url(#dg)"/><circle cx="119.4" cy="143.47" r="0.8" fill="#7a3030"/><ellipse cx="119.4" cy="139.27" rx="0.7" ry="0.5" fill="#e25858"/><ellipse cx="119.4" cy="147.67" rx="0.7" ry="0.5" fill="#e25858"/><ellipse cx="115.2" cy="143.47" rx="0.7" ry="0.5" fill="#e25858"/><ellipse cx="123.6" cy="143.47" rx="0.7" ry="0.5" fill="#e25858"/><circle cx="106.57" cy="147.64" r="1.75" fill="url(#bg)"/><circle cx="115.12" cy="147.64" r="1.75" fill="url(#bg)"/><polygon points="102.3,147.61 106.5,151.81 102.3,156.01 98.1,151.81" fill="url(#dg)"/><circle cx="102.3" cy="151.81" r="0.8" fill="#7a3030"/><ellipse cx="102.3" cy="147.61" rx="0.7" ry="0.5" fill="#e25858"/><ellipse cx="102.3" cy="156.01" rx="0.7" ry="0.5" fill="#e25858"/><ellipse cx="98.1" cy="151.81" rx="0.7" ry="0.5" fill="#e25858"/><ellipse cx="106.5" cy="151.81" rx="0.7" ry="0.5" fill="#e25858"/><polygon points="110.85,147.61 115.05,151.81 110.85,156.01 106.65,151.81" fill="url(#dg2)"/><circle cx="110.85" cy="151.81" r="0.8" fill="#7a3030"/><ellipse cx="110.85" cy="147.61" rx="0.7" ry="0.5" fill="#e25858"/><ellipse cx="110.85" cy="156.01" rx="0.7" ry="0.5" fill="#e25858"/><ellipse cx="106.65" cy="151.81" rx="0.7" ry="0.5" fill="#e25858"/><ellipse cx="115.05" cy="151.81" rx="0.7" ry="0.5" fill="#e25858"/><polygon points="119.4,147.61 123.6,151.81 119.4,156.01 115.2,151.81" fill="url(#dg)"/><circle cx="119.4" cy="151.81" r="0.8" fill="#7a3030"/><ellipse cx="119.4" cy="147.61" rx="0.7" ry="0.5" fill="#e25858"/><ellipse cx="119.4" cy="156.01" rx="0.7" ry="0.5" fill="#e25858"/><ellipse cx="115.2" cy="151.81" rx="0.7" ry="0.5" fill="#e25858"/><ellipse cx="123.6" cy="151.81" rx="0.7" ry="0.5" fill="#e25858"/><circle cx="106.57" cy="155.98" r="1.75" fill="url(#bg)"/><circle cx="115.12" cy="155.98" r="1.75" fill="url(#bg)"/></g>
<rect x="71.1" y="12.8" width="3" height="20.4" fill="#4444f8"/>
<polygon points="68.4,32.7 76.8,32.7 72.6,42.7" fill="#4444f8"/>
<rect x="70.9" y="46.5" width="3" height="96.6" fill="#4444f8"/>
<polygon points="68.2,142.6 76.6,142.6 72.4,152.6" fill="#4444f8"/>
<rect x="131" y="7.1" width="3" height="20.4" fill="#4444f8"/>
<polygon points="128.3,27 136.7,27 132.5,37" fill="#4444f8"/>
<rect x="131.1" y="59" width="3" height="95.9" fill="#f5464e"/>
<polygon points="128.4,59 136.8,59 132.6,49" fill="#f5464e"/>
<text x="79.9" y="30.8" font-size="8.2" font-weight="bold" fill="#000" textLength="7" lengthAdjust="spacingAndGlyphs" font-family="'Liberation Sans', sans-serif">M</text>
<text x="87.5" y="33.4" font-size="6.3" fill="#555" font-family="'Liberation Sans', sans-serif">S</text>
<text x="79.8" y="103.2" font-size="8.2" font-weight="bold" fill="#000" textLength="7" lengthAdjust="spacingAndGlyphs" font-family="'Liberation Sans', sans-serif">M</text>
<text x="87.4" y="105.8" font-size="6.3" fill="#555" font-family="'Liberation Sans', sans-serif">B</text>
<text x="139.5" y="24.8" font-size="8.2" font-weight="bold" fill="#000" textLength="7" lengthAdjust="spacingAndGlyphs" font-family="'Liberation Sans', sans-serif">M</text>
<text x="147.1" y="27.4" font-size="6.3" fill="#555" font-family="'Liberation Sans', sans-serif">S</text>
<text x="139.5" y="102.6" font-size="8.2" font-weight="bold" fill="#000" textLength="7" lengthAdjust="spacingAndGlyphs" font-family="'Liberation Sans', sans-serif">M</text>
<text x="147.1" y="105.2" font-size="6.3" fill="#555" font-family="'Liberation Sans', sans-serif">B</text>
<rect x="27.5" y="183.5" width="121.0" height="140.0" fill="none" stroke="#7a7a7a" stroke-width="1"/>
<line x1="50.19" y1="323.5" x2="50.19" y2="321.0" stroke="#7a7a7a" stroke-width="0.8"/>
<text x="50.19" y="333.2" font-size="7.8" text-anchor="middle" font-weight="normal" fill="#222" font-family="'Liberation Sans', sans-serif" >–5</text>
<line x1="88" y1="323.5" x2="88" y2="321.0" stroke="#7a7a7a" stroke-width="0.8"/>
<text x="88" y="333.2" font-size="7.8" text-anchor="middle" font-weight="normal" fill="#222" font-family="'Liberation Sans', sans-serif" >0</text>
<line x1="125.81" y1="323.5" x2="125.81" y2="321.0" stroke="#7a7a7a" stroke-width="0.8"/>
<text x="125.81" y="333.2" font-size="7.8" text-anchor="middle" font-weight="normal" fill="#222" font-family="'Liberation Sans', sans-serif" >5</text>
<line x1="27.5" y1="295.3" x2="30.0" y2="295.3" stroke="#7a7a7a" stroke-width="0.8"/>
<text x="23.9" y="298" font-size="7.8" text-anchor="end" font-weight="normal" fill="#222" font-family="'Liberation Sans', sans-serif" >1.0</text>
<line x1="27.5" y1="239.4" x2="30.0" y2="239.4" stroke="#7a7a7a" stroke-width="0.8"/>
<text x="23.9" y="242.1" font-size="7.8" text-anchor="end" font-weight="normal" fill="#222" font-family="'Liberation Sans', sans-serif" >1.1</text>
<line x1="27.5" y1="183.5" x2="30.0" y2="183.5" stroke="#7a7a7a" stroke-width="0.8"/>
<text x="23.9" y="186.2" font-size="7.8" text-anchor="end" font-weight="normal" fill="#222" font-family="'Liberation Sans', sans-serif" >1.2</text>
<text x="69.1" y="346.2" font-size="8.6" text-anchor="start" font-weight="normal" fill="#222" font-family="'Liberation Sans', sans-serif"  textLength="37.8" lengthAdjust="spacingAndGlyphs">Bias (mV)</text>
<text transform="translate(10.6,242.5) rotate(-90)" text-anchor="middle" font-size="8.6" fill="#222" textLength="51" lengthAdjust="spacingAndGlyphs" font-family="'Liberation Sans', sans-serif"><tspan font-style="italic">g</tspan>(<tspan font-style="italic">V</tspan>) (norm.)</text>
<path d="M27.5,294 C28.43,294.13 29,294.63 31,294.5 C33,294.37 32.87,293.9 35,293.5 C37.13,293.1 36.87,293.4 39,293 C41.13,292.6 41.13,292.67 43,292 C44.87,291.33 44.4,291.57 46,290.5 C47.6,289.43 47.4,289.47 49,288 C50.6,286.53 50.4,286.87 52,285 C53.6,283.13 53.4,283.13 55,281 C56.6,278.87 56.67,278.87 58,277 C59.33,275.13 58.93,276.13 60,274 C61.07,271.87 61.07,272.04 62,269 C62.93,265.96 62.57,266.87 63.5,262.6 C64.43,258.33 64.35,257.53 65.5,253 C66.65,248.47 66.84,249.23 67.8,245.6 C68.76,241.97 68.25,243.69 69.1,239.4 C69.95,235.11 69.91,234.14 71,229.5 C72.09,224.86 72.21,224.11 73.2,222 C74.19,219.89 73.85,220.16 74.7,221.6 C75.55,223.04 75.39,223.85 76.4,227.4 C77.41,230.95 77.49,233.49 78.5,234.9 C79.51,236.31 79.35,236.14 80.2,232.7 C81.05,229.26 81.01,226.08 81.7,222 C82.39,217.92 82.11,217.4 82.8,217.4 C83.49,217.4 83.55,216.21 84.3,222 C85.05,227.79 85.01,229.5 85.6,239.1 C86.19,248.7 86.05,247.63 86.5,258 C86.95,268.37 86.9,270.53 87.3,278 C87.7,285.47 87.41,284.67 88,286 C88.59,287.33 88.73,284.6 89.5,283 C90.27,281.4 90.1,280 90.9,280 C91.7,280 91.17,280.87 92.5,283 C93.83,285.13 94.54,285.33 95.9,288 C97.26,290.67 96.48,289 97.6,293 C98.72,297 98.74,299.96 100.1,303 C101.46,306.04 101.13,304.13 102.7,304.4 C104.27,304.67 104.13,304.08 106,304 C107.87,303.92 107.67,303.33 109.7,304.1 C111.73,304.87 111.71,306.5 113.6,306.9 C115.49,307.3 115.25,305.25 116.8,305.6 C118.35,305.95 118.04,307.83 119.4,308.2 C120.76,308.57 120.19,308.55 121.9,307 C123.61,305.45 123.75,303.09 125.8,302.4 C127.85,301.71 127.55,303.01 129.6,304.4 C131.65,305.79 131.79,306.11 133.5,307.6 C135.21,309.09 134.48,310.35 136,310 C137.52,309.65 137.15,308.17 139.2,306.3 C141.25,304.43 141.75,304.95 143.7,303 C145.65,301.05 145.22,301.03 146.5,299 C147.78,296.97 147.97,296.36 148.5,295.4" fill="none" stroke="#a64cb2" stroke-width="1.05" stroke-linejoin="round"/>
<path d="M27.5,294 C28.17,293.87 28.8,293.9 30,293.5 C31.2,293.1 31.07,292.37 32,292.5 C32.93,292.63 32.7,294.13 33.5,294 C34.3,293.87 34.07,292.13 35,292 C35.93,291.87 36.07,293.77 37,293.5 C37.93,293.23 37.7,291.13 38.5,291 C39.3,290.87 39.07,292.73 40,293 C40.93,293.27 40.93,292.53 42,292 C43.07,291.47 42.93,292.07 44,291 C45.07,289.93 44.93,289.6 46,288 C47.07,286.4 46.93,287.4 48,285 C49.07,282.6 48.93,281.4 50,279 C51.07,276.6 50.93,277.33 52,276 C53.07,274.67 52.93,275.6 54,274 C55.07,272.4 54.93,271.87 56,270 C57.07,268.13 56.93,268.97 58,267 C59.07,265.03 59.07,264.73 60,262.6 C60.93,260.47 60.57,264.68 61.5,259 C62.43,253.32 62.27,249.73 63.5,241.3 C64.73,232.87 64.85,232.81 66.1,227.4 C67.35,221.99 67.05,221.56 68.2,221 C69.35,220.44 69.07,221.03 70.4,225.3 C71.73,229.57 71.6,229.88 73.2,237 C74.8,244.12 75.09,246.88 76.4,252 C77.71,257.12 77.09,258.76 78.1,256.2 C79.11,253.64 79.05,250.08 80.2,242.4 C81.35,234.72 81.44,230.25 82.4,227.4 C83.36,224.55 82.84,226.85 83.8,231.7 C84.76,236.55 85.15,236.72 86,245.6 C86.85,254.48 86.47,255.03 87,265 C87.53,274.97 87.47,278.47 88,283 C88.53,287.53 88.33,280.93 89,282 C89.67,283.07 89.46,283 90.5,287 C91.54,291 91.46,294.07 92.9,297 C94.34,299.93 94.49,296.56 95.9,298 C97.31,299.44 96.89,300.53 98.2,302.4 C99.51,304.27 99.39,302.71 100.8,305 C102.21,307.29 101.98,307.75 103.5,311 C105.02,314.25 105.3,315.87 106.5,317.2 C107.7,318.53 106.61,317.2 108,316 C109.39,314.8 109.97,314.3 111.7,312.7 C113.43,311.1 112.98,311.36 114.5,310 C116.02,308.64 116.07,308.8 117.4,307.6 C118.73,306.4 118.3,306.73 119.5,305.5 C120.7,304.27 120.65,304.68 121.9,303 C123.15,301.32 123.11,299.87 124.2,299.2 C125.29,298.53 124.91,299.81 126,300.5 C127.09,301.19 127.23,301.8 128.3,301.8 C129.37,301.8 129.15,300.66 130,300.5 C130.85,300.34 130.41,300.16 131.5,301.2 C132.59,302.24 133.03,303.79 134.1,304.4 C135.17,305.01 134.65,303.69 135.5,303.5 C136.35,303.31 135.97,304.5 137.3,303.7 C138.63,302.9 138.98,301.89 140.5,300.5 C142.02,299.11 141.8,299.35 143,298.5 C144.2,297.65 143.53,298.13 145,297.3 C146.47,296.47 147.57,295.91 148.5,295.4" fill="none" stroke="#111" stroke-width="1.05" stroke-linejoin="round"/>
<text x="64.4" y="199.6" font-size="8.4" fill="#222" font-family="'Liberation Sans', sans-serif">P<tspan font-size="5.5" dy="1.8">I</tspan></text>
<text x="77.8" y="199.6" font-size="8.4" fill="#222" font-family="'Liberation Sans', sans-serif">P<tspan font-size="5.5" dy="1.8">II</tspan></text>
<line x1="68.4" y1="205" x2="68.4" y2="213" stroke="#222" stroke-width="0.9" stroke-dasharray="1,1"/>
<line x1="82.1" y1="205" x2="82.1" y2="213" stroke="#222" stroke-width="0.9" stroke-dasharray="1,1"/>
<polygon points="66.3,215.2 70.1,215.2 68.2,218.4" fill="#000"/>
<polygon points="71.9,215.2 75.7,215.2 73.8,218.4" fill="#000"/>
<line x1="94.8" y1="192.3" x2="106.2" y2="192.3" stroke="#111" stroke-width="1"/>
<line x1="94.8" y1="203.5" x2="106.2" y2="203.5" stroke="#a64cb2" stroke-width="1"/>
<text x="110.6" y="194.6" font-size="8.6" font-weight="bold" fill="#000" textLength="6.9" lengthAdjust="spacingAndGlyphs" font-family="'Liberation Sans', sans-serif">M</text>
<text x="118.2" y="197.6" font-size="6" fill="#555" font-family="'Liberation Sans', sans-serif">S</text>
<line x1="124.3" y1="189.4" x2="124.3" y2="194.6" stroke="#5a5a5a" stroke-width="0.95"/>
<polyline points="122.4,191 124.3,189.1 126.2,191" fill="none" stroke="#5a5a5a" stroke-width="0.95"/>
<line x1="130.2" y1="189.4" x2="130.2" y2="194.6" stroke="#5a5a5a" stroke-width="0.95"/>
<polyline points="128.3,191 130.2,189.1 132.1,191" fill="none" stroke="#5a5a5a" stroke-width="0.95"/>
<text x="133.5" y="194.6" font-size="8.6" font-weight="bold" fill="#000" textLength="6.9" lengthAdjust="spacingAndGlyphs" font-family="'Liberation Sans', sans-serif">M</text>
<text x="141.2" y="197.6" font-size="6" fill="#555" font-family="'Liberation Sans', sans-serif">B</text>
<text x="110.6" y="205.8" font-size="8.6" font-weight="bold" fill="#000" textLength="6.9" lengthAdjust="spacingAndGlyphs" font-family="'Liberation Sans', sans-serif">M</text>
<text x="118.2" y="208.8" font-size="6" fill="#555" font-family="'Liberation Sans', sans-serif">S</text>
<line x1="124.3" y1="200.6" x2="124.3" y2="205.8" stroke="#5a5a5a" stroke-width="0.95"/>
<polyline points="122.4,202.2 124.3,200.3 126.2,202.2" fill="none" stroke="#5a5a5a" stroke-width="0.95"/>
<line x1="130.2" y1="200" x2="130.2" y2="205.2" stroke="#5a5a5a" stroke-width="0.95"/>
<polyline points="128.3,203.6 130.2,205.5 132.1,203.6" fill="none" stroke="#5a5a5a" stroke-width="0.95"/>
<text x="133.5" y="205.8" font-size="8.6" font-weight="bold" fill="#000" textLength="6.9" lengthAdjust="spacingAndGlyphs" font-family="'Liberation Sans', sans-serif">M</text>
<text x="141.2" y="208.8" font-size="6" fill="#555" font-family="'Liberation Sans', sans-serif">B</text>
<rect x="200.5" y="8.5" width="121.0" height="315.0" fill="none" stroke="#7a7a7a" stroke-width="1"/>
<text x="200.3" y="333.4" font-size="7.8" text-anchor="middle" font-weight="normal" fill="#222" font-family="'Liberation Sans', sans-serif" >–5</text>
<line x1="261" y1="323.5" x2="261" y2="321.0" stroke="#7a7a7a" stroke-width="0.8"/>
<text x="261" y="333.4" font-size="7.8" text-anchor="middle" font-weight="normal" fill="#222" font-family="'Liberation Sans', sans-serif" >0</text>
<text x="321.5" y="333.4" font-size="7.8" text-anchor="middle" font-weight="normal" fill="#222" font-family="'Liberation Sans', sans-serif" >5</text>
<line x1="200.5" y1="37.3" x2="202.5" y2="37.3" stroke="#7a7a7a" stroke-width="0.8"/>
<text x="196.7" y="40" font-size="7.8" text-anchor="end" font-weight="normal" fill="#222" font-family="'Liberation Sans', sans-serif" >1.0</text>
<line x1="200.5" y1="94.55" x2="202.5" y2="94.55" stroke="#7a7a7a" stroke-width="0.8"/>
<text x="196.7" y="97.25" font-size="7.8" text-anchor="end" font-weight="normal" fill="#222" font-family="'Liberation Sans', sans-serif" >0.5</text>
<line x1="200.5" y1="151.8" x2="202.5" y2="151.8" stroke="#7a7a7a" stroke-width="0.8"/>
<text x="196.7" y="154.5" font-size="7.8" text-anchor="end" font-weight="normal" fill="#222" font-family="'Liberation Sans', sans-serif" >0</text>
<line x1="200.5" y1="209.05" x2="202.5" y2="209.05" stroke="#7a7a7a" stroke-width="0.8"/>
<text x="196.7" y="211.75" font-size="7.8" text-anchor="end" font-weight="normal" fill="#222" font-family="'Liberation Sans', sans-serif" >–0.5</text>
<line x1="200.5" y1="266.3" x2="202.5" y2="266.3" stroke="#7a7a7a" stroke-width="0.8"/>
<text x="196.7" y="269" font-size="7.8" text-anchor="end" font-weight="normal" fill="#222" font-family="'Liberation Sans', sans-serif" >–1.0</text>
<line x1="200.5" y1="323.55" x2="202.5" y2="323.55" stroke="#7a7a7a" stroke-width="0.8"/>
<text x="196.7" y="326.25" font-size="7.8" text-anchor="end" font-weight="normal" fill="#222" font-family="'Liberation Sans', sans-serif" >–1.5</text>
<text x="242" y="345.6" font-size="8.6" text-anchor="start" font-weight="normal" fill="#222" font-family="'Liberation Sans', sans-serif"  textLength="37.4" lengthAdjust="spacingAndGlyphs">Bias (mV)</text>
<text transform="translate(176.6,164.6) rotate(-90)" text-anchor="middle" font-size="8.6" fill="#222" textLength="37.7" lengthAdjust="spacingAndGlyphs" font-family="'Liberation Sans', sans-serif"><tspan font-style="italic">g</tspan>(<tspan font-style="italic">V</tspan>) (a.u.)</text>
<polyline points="200.5,35.41 202.25,34.58 204,34.08 205.63,33.09 207.27,32.62 208.9,31.83 210.95,30.98 213,30.5 214.63,29.74 216.26,29.4 217.89,28.68 220.04,27.75 222.18,26.96 223.97,26.21 225.75,24.91 227.9,24.16 230.25,24.96 231.78,25.86 233.31,26.41 234.85,27.05 236.46,27.94 238.08,28.07 239.99,28.78 241.9,28.79 244,27.92 246.3,26.41 248.5,25.4 250.8,25.36 253,26.04 255.2,28.44 258,32.57 260.6,35.44 263,37.02 264.5,37.33 266,37.88 267.73,38.29 269.47,38.86 271.2,39.06 272.8,39.41 274.4,39.94 276,40.28 277.97,40.67 279.93,41.38 281.9,41.8 283.6,41.94 285.3,42.47 287,42.81 288.87,43.22 290.73,43.38 292.6,43.39 294.8,43.69 297,43.21 298.5,43.09 300,43 301.5,42.43 303,42.29 304.5,41.77 306,41.78 307.55,41.63 309.1,41.34 310.65,41.29 312.2,40.81 313.8,40.93 315.4,40.81 317,40.74 318.5,40.68 320,40.87 321.5,40.7" fill="none" stroke="#f43838" stroke-width="1.15" stroke-linejoin="round"/>
<polygon points="225.8,19.6 230,19.6 227.9,23.1" fill="#000"/>
<polyline points="200.5,44.87 202.25,43.89 204,43.23 205.63,42.23 207.27,41.85 208.9,41.12 210.95,40.6 213,39.81 214.64,39.01 216.28,38.53 217.92,38.13 220.08,36.86 222.25,36.13 224.05,35.03 225.85,34.06 228.01,33.23 230.34,34.18 231.86,34.6 233.38,35.39 234.9,36.2 236.5,37.04 238.11,37.24 240,37.72 241.9,38.07 244,37.44 246.3,35.91 248.5,34.83 250.8,34.24 253,35.31 255.2,37.48 258,41.84 260.6,44.88 263,45.98 264.5,46.54 266,47.12 267.73,47.45 269.47,47.91 271.2,48.29 272.8,48.53 274.4,48.8 276,49.41 277.97,49.85 279.93,50.42 281.9,51.08 283.6,51.31 285.3,51.59 287,52.01 288.87,52.27 290.73,52.19 292.6,52.85 294.8,52.74 297,52.74 298.5,52.43 300,51.96 301.5,51.7 303,51.25 304.5,51.22 306,50.63 307.55,50.43 309.1,50.3 310.65,50.08 312.2,49.97 313.8,49.76 315.4,49.67 317,49.68 318.5,49.65 320,49.78 321.5,49.85" fill="none" stroke="#f43838" stroke-width="1.15" stroke-linejoin="round"/>
<polygon points="225.91,28.75 230.11,28.75 228.01,32.25" fill="#000"/>
<polyline points="200.5,53.56 202.25,53.24 204,52.36 205.63,51.42 207.27,50.78 208.9,50.12 210.95,49.43 213,48.61 214.65,48.44 216.3,47.98 217.96,47.18 220.13,46.24 222.31,45.09 224.13,44.15 225.94,43.32 228.12,42.48 230.43,43.36 231.94,43.76 233.45,44.43 234.96,45.63 236.55,46.01 238.13,46.42 240.02,46.92 241.9,46.96 244,46.41 246.3,45.14 248.5,43.98 250.8,43.6 253,44.38 255.2,46.63 258,50.63 260.6,53.94 263,55.32 264.5,55.99 266,56.31 267.73,56.59 269.47,57.22 271.2,57.64 272.8,57.98 274.4,58.35 276,58.76 277.97,59.19 279.93,59.4 281.9,60.01 283.6,60.29 285.3,60.5 287,60.86 288.87,61.22 290.73,61.45 292.6,61.9 294.8,61.98 297,61.67 298.5,61.65 300,61.41 301.5,61.13 303,60.53 304.5,60.16 306,59.86 307.55,59.65 309.1,59.45 310.65,59.46 312.2,59.4 313.8,59.3 315.4,59.06 317,59.08 318.5,59.15 320,58.79 321.5,59" fill="none" stroke="#f43838" stroke-width="1.15" stroke-linejoin="round"/>
<polygon points="226.02,37.9 230.22,37.9 228.12,41.4" fill="#000"/>
<polyline points="200.5,63.03 202.25,62.4 204,61.59 205.63,60.88 207.27,60.04 208.9,59.19 210.95,58.79 213,57.87 214.66,57.57 216.33,57.12 217.99,56.3 220.18,55.35 222.38,54.67 224.21,53.61 226.04,52.39 228.23,51.56 230.52,52.18 232.77,53.65 235.01,54.7 236.59,54.97 238.16,55.91 240.03,56.29 241.9,56.43 244,55.48 246.3,54.07 248.5,52.77 250.8,52.41 253,53.89 255.2,55.92 258,59.96 260.6,63.17 263,64.42 264.5,65.19 266,65.71 267.73,65.74 269.47,66.09 271.2,66.45 272.8,66.82 274.4,67.39 276,67.63 277.97,68.18 279.93,68.5 281.9,69.36 283.6,69.44 285.3,69.86 287,70.29 288.87,70.69 290.73,70.68 292.6,71.16 294.8,70.9 297,70.87 298.5,70.6 300,70.08 301.5,70.02 303,69.59 304.5,69.2 306,69.3 307.55,68.79 309.1,68.74 310.65,68.66 312.2,68.38 313.8,68.2 315.4,68.23 317,68.18 318.5,68.29 320,67.95 321.5,68.15" fill="none" stroke="#f43838" stroke-width="1.15" stroke-linejoin="round"/>
<polygon points="226.13,47.05 230.33,47.05 228.23,50.55" fill="#000"/>
<polyline points="200.5,72.13 202.25,71.22 204,70.49 205.63,70.04 207.27,69.2 208.9,68.53 210.95,67.93 213,67.31 214.67,66.54 216.35,66.09 218.02,65.5 220.23,64.56 222.44,63.7 224.29,62.63 226.13,61.72 228.34,60.89 230.61,61.72 232.84,62.7 235.06,63.89 236.63,64.52 238.19,64.78 240.05,65.23 241.9,65.72 244,64.87 246.3,63.02 248.5,61.91 250.8,61.77 253,62.59 255.2,64.87 258,68.89 260.6,72.18 263,73.74 264.5,74.35 266,74.53 267.73,75.14 269.47,75.45 271.2,75.52 272.8,76.29 274.4,76.73 276,76.76 277.97,77.59 279.93,77.78 281.9,78.29 283.6,78.91 285.3,79.2 287,79.23 288.87,79.6 290.73,79.87 292.6,80.02 294.8,79.9 297,79.91 298.5,79.84 300,79.23 301.5,79.23 303,78.87 304.5,78.36 306,78.22 307.55,78.16 309.1,77.91 310.65,77.48 312.2,77.74 313.8,77.58 315.4,77.6 317,77.1 318.5,77.18 320,77.07 321.5,77.3" fill="none" stroke="#f43838" stroke-width="1.15" stroke-linejoin="round"/>
<polygon points="226.24,56.2 230.44,56.2 228.34,59.7" fill="#000"/>
<polyline points="200.5,81.39 202.25,80.39 204,79.56 205.63,79.01 207.27,78.56 208.9,77.81 210.95,76.83 213,76.07 214.69,75.93 216.37,75.22 218.06,74.75 220.28,73.49 222.51,72.53 224.37,71.89 226.22,70.81 228.45,69.84 230.7,70.87 232.91,71.82 235.12,73 236.67,73.24 238.22,74.23 240.06,74.13 241.9,74.83 244,73.83 246.3,72.27 248.5,71.28 250.8,71.16 253,71.83 255.2,73.96 258,78.26 260.6,81.12 263,82.55 264.5,83.13 266,83.63 267.73,84.03 269.47,84.42 271.2,84.75 272.8,85.38 274.4,85.54 276,86.05 277.97,86.36 279.93,86.91 281.9,87.21 283.6,87.69 285.3,87.94 287,88.67 288.87,88.81 290.73,88.86 292.6,89.24 294.8,89.42 297,88.95 298.5,89.04 300,88.58 301.5,88.35 303,88.22 304.5,87.7 306,87.45 307.55,87.34 309.1,87.29 310.65,86.77 312.2,86.82 313.8,86.69 315.4,86.58 317,86.4 318.5,86.37 320,86.23 321.5,86.45" fill="none" stroke="#f43838" stroke-width="1.15" stroke-linejoin="round"/>
<polygon points="226.35,65.35 230.55,65.35 228.45,68.85" fill="#000"/>
<polyline points="200.5,90.21 202.25,89.44 204,89.02 205.63,88.08 207.27,87.33 208.9,86.59 210.95,86.27 213,85.59 214.7,84.95 216.39,84.22 218.09,83.67 220.33,82.75 222.58,81.88 224.45,80.78 226.32,79.97 228.56,79.08 230.8,80.03 232.98,81.14 235.17,82.02 236.71,82.47 238.25,83.43 240.07,83.4 241.9,83.73 244,82.75 246.3,81.44 248.5,80.39 250.8,80.1 253,80.95 255.2,83.3 258,87.15 260.6,90.28 263,91.69 264.5,92.4 266,92.77 267.73,93.09 269.47,93.57 271.2,93.87 272.8,94.44 274.4,94.81 276,95.33 277.97,95.75 279.93,96.24 281.9,96.79 283.6,96.91 285.3,97.25 287,97.94 288.87,97.76 290.73,98.28 292.6,98.47 294.8,98.12 297,98.47 298.5,98.23 300,97.83 301.5,97.62 303,97.36 304.5,96.72 306,96.61 307.55,96.4 309.1,96.37 310.65,96.15 312.2,95.96 313.8,95.78 315.4,95.86 317,95.69 318.5,95.7 320,95.46 321.5,95.6" fill="none" stroke="#f43838" stroke-width="1.15" stroke-linejoin="round"/>
<polygon points="226.46,74.5 230.66,74.5 228.56,78" fill="#000"/>
<polyline points="200.5,99.32 202.25,98.62 204,97.98 205.63,97.15 207.27,96.82 208.9,95.98 210.95,95.31 213,94.61 214.71,94.11 216.41,93.48 218.12,92.7 219.63,92.47 221.13,91.81 222.64,91.05 224.53,90.12 226.41,89.23 228.67,88.13 230.89,89.07 233.06,89.93 235.23,90.94 236.75,91.63 238.28,92.46 240.09,92.5 241.9,93.07 244,92.39 246.3,90.65 248.5,89.49 250.8,89.24 253,90.34 255.2,92.58 258,96.61 260.6,99.62 263,100.84 264.5,101.42 266,102.03 267.73,102.6 269.47,102.72 271.2,103.18 272.8,103.31 274.4,103.73 276,104.23 277.97,104.9 279.93,105.38 281.9,105.84 283.6,106.01 285.3,106.49 287,106.83 288.87,107.07 290.73,107.13 292.6,107.75 294.8,107.35 297,107.69 298.5,107.4 300,106.68 301.5,106.63 303,106.51 304.5,106.28 306,105.72 307.55,105.43 309.1,105.2 310.65,105.37 312.2,104.81 313.8,104.92 315.4,104.64 317,104.76 318.5,104.98 320,104.57 321.5,104.75" fill="none" stroke="#f43838" stroke-width="1.15" stroke-linejoin="round"/>
<polygon points="226.57,83.65 230.77,83.65 228.67,87.15" fill="#000"/>
<polyline points="200.5,108.86 202.25,107.95 204,107.39 205.63,106.6 207.27,105.67 208.9,105.3 210.95,104.39 213,103.46 214.72,102.92 216.44,102.63 218.15,102.08 219.67,101.37 221.19,100.65 222.71,100.12 224.61,99.16 226.5,98.47 228.78,97.25 230.98,98.23 233.13,99.37 235.28,100.11 236.79,101.11 238.3,101.61 240.1,102 241.9,101.99 244,101.24 246.3,99.75 248.5,98.95 250.8,98.44 253,99.33 255.2,101.56 258,105.59 260.6,108.47 263,110 264.5,110.92 266,111.19 267.73,111.85 269.47,111.84 271.2,112.18 272.8,112.71 274.4,112.94 276,113.44 277.97,114.19 279.93,114.63 281.9,115.06 283.6,115.33 285.3,115.84 287,116.22 288.87,116.26 290.73,116.58 292.6,116.47 294.8,116.77 297,116.58 298.5,116.46 300,116.14 301.5,115.69 303,115.27 304.5,115.41 306,114.71 307.55,114.69 309.1,114.42 310.65,114.2 312.2,114.22 313.8,114.27 315.4,113.85 317,113.98 318.5,113.8 320,113.93 321.5,113.9" fill="none" stroke="#f43838" stroke-width="1.15" stroke-linejoin="round"/>
<polygon points="226.68,92.8 230.88,92.8 228.78,96.3" fill="#000"/>
<polyline points="200.5,117.8 202.25,116.93 204,116.18 205.63,115.5 207.27,115.15 208.9,114.25 210.95,113.41 213,113.05 214.73,112.56 216.46,111.76 218.19,111.07 219.72,110.46 221.25,109.78 222.77,109.27 224.69,108.2 226.6,107.32 228.89,106.53 231.07,107.28 233.2,108.54 235.34,109.57 238.33,110.61 240.12,110.91 241.9,111.26 244,110.39 246.3,108.87 248.5,107.63 250.8,107.44 253,108.78 255.2,110.56 258,114.85 260.6,117.91 263,119.53 264.5,119.76 266,120.34 267.73,120.66 269.47,121.07 271.2,121.42 272.8,122.08 274.4,122.42 276,122.84 277.97,122.88 279.93,123.35 281.9,124.15 283.6,124.61 285.3,124.77 287,125.19 288.87,125.13 290.73,125.56 292.6,126.06 294.8,125.96 297,125.93 298.5,125.72 300,125.09 301.5,124.75 303,124.48 304.5,124.36 306,124.14 307.55,124.07 309.1,123.76 310.65,123.52 312.2,123.38 313.8,123.16 315.4,123.14 317,122.82 318.5,123.19 320,122.92 321.5,123.05" fill="none" stroke="#f43838" stroke-width="1.15" stroke-linejoin="round"/>
<polygon points="226.79,101.95 230.99,101.95 228.89,105.45" fill="#000"/>
<polyline points="200.5,127.21 202.25,126.32 204,125.4 205.63,124.61 207.27,123.98 208.9,123.47 210.95,122.8 213,121.81 214.74,121.25 216.48,120.95 218.22,120.44 219.76,119.71 221.3,119 222.84,118.55 224.76,117.31 226.69,116.5 229,115.78 231.16,116.63 233.27,117.57 235.39,118.79 238.36,119.79 240.13,119.97 241.9,120.27 244,119.83 246.3,118.2 248.5,116.9 250.8,116.46 253,117.7 255.2,119.99 258,123.96 260.6,126.88 263,128.58 264.5,129.26 266,129.46 267.73,129.7 269.47,130.19 271.2,130.56 272.8,131.09 274.4,131.25 276,131.95 277.97,132.39 279.93,132.74 281.9,133.05 283.6,133.8 285.3,133.84 287,134.46 288.87,134.4 290.73,134.63 292.6,135.13 294.8,134.85 297,135.13 298.5,134.63 300,134.21 301.5,133.96 303,133.76 304.5,133.58 306,133.42 307.55,132.82 309.1,132.75 310.65,132.46 312.2,132.64 313.8,132.15 315.4,132.04 317,131.98 318.5,132.15 320,132.4 321.5,132.2" fill="none" stroke="#f43838" stroke-width="1.15" stroke-linejoin="round"/>
<polygon points="226.9,111.1 231.1,111.1 229,114.6" fill="#000"/>
<polyline points="200.5,138.39 202,137.98 203.5,137.78 205,137.42 206.6,136.74 208.2,136.29 209.8,136.29 211.4,135.82 213.27,134.87 215.13,134.58 217,133.84 218.93,133.14 220.87,132.42 222.8,131.63 224.9,130.6 227,129.79 228.63,129.16 230.27,128.79 231.9,127.71 233.45,127.68 235,126.85 237.1,126.53 239,126.96 241,127.96 243.7,128.27 246,127.27 248.5,126.29 250.5,125.84 252.5,126.81 255.1,129.15 257.5,133.13 260.2,136.9 262.5,137.37 265,137.36 266.5,138.21 268,138.83 269.97,139.14 271.93,139.8 273.9,140.48 275.6,141.31 277.3,141.38 279,142.02 280.67,142.4 282.33,142.42 284,142.69 285.8,143.3 287.6,143.39 289.4,143.48 291.27,143.87 293.13,143.84 295,143.99 296.93,143.92 298.87,144.36 300.8,144.51 302.53,144.3 304.27,144.39 306,143.86 307.55,143.89 309.1,143.94 310.65,144.1 312.2,144.03 313.8,143.71 315.4,143.61 317,143.66 318.5,143.7 320,143.91 321.5,143.7" fill="none" stroke="#a444b2" stroke-width="1.15" stroke-linejoin="round"/>
<polygon points="235.1,121 239.3,121 237.2,124.5" fill="#000"/>
<polyline points="200.5,147.34 202,147.32 203.5,146.95 205,146.66 206.6,146.26 208.2,145.8 209.8,145.29 211.4,144.91 213.27,144.33 215.13,143.94 217,142.99 218.93,142.35 220.87,141.93 222.8,140.97 224.9,139.93 227,138.97 228.63,138.56 230.27,137.78 231.9,137.44 233.45,136.94 235,136.54 237.1,135.78 239,135.89 241,136.9 243.7,137.6 246,136.9 248.5,135.57 250.5,135.07 252.5,135.86 255.1,138.66 257.5,142.59 260.2,146.12 262.5,147.07 265,146.78 266.5,147.16 268,148.17 269.97,148.56 271.93,149.37 273.9,149.94 275.6,150.52 277.3,150.65 279,151.07 280.67,151.37 282.33,151.63 284,152.29 285.8,152.41 287.6,152.55 289.4,152.85 291.27,153.31 293.13,153.24 295,153.27 296.93,153.62 298.87,153.61 300.8,153.85 302.53,153.33 304.27,153.45 306,153.56 307.55,153.5 309.1,153.46 310.65,152.95 312.2,153 313.8,152.88 315.4,152.88 317,153.24 318.5,153.04 320,153.22 321.5,153" fill="none" stroke="#a444b2" stroke-width="1.15" stroke-linejoin="round"/>
<polygon points="235.1,130.3 239.3,130.3 237.2,133.8" fill="#000"/>
<polyline points="200.5,156.74 202,156.65 203.5,156.11 205,155.68 206.6,155.56 208.2,155.27 209.8,154.48 211.4,154.35 213.27,153.76 215.13,152.96 217,152.43 218.93,151.62 220.87,150.95 222.8,150.28 224.9,149.5 227,148.58 228.63,147.69 230.27,146.92 231.9,146.41 233.45,146.14 235,145.44 237.1,145.11 239,145.25 241,146.55 243.7,146.92 246,145.88 248.5,144.7 250.5,144.45 252.5,145.23 255.1,147.97 257.5,151.6 260.2,155.13 262.5,156.3 265,155.95 266.5,156.54 268,157.2 269.97,158.19 271.93,158.54 273.9,159.33 275.6,159.63 277.3,160.06 279,160.68 280.67,161.05 282.33,161.03 284,161.25 285.8,161.78 287.6,161.79 289.4,161.95 291.27,162.57 293.13,162.5 295,162.86 296.93,162.72 298.87,163.02 300.8,162.88 302.53,162.66 304.27,162.52 306,162.73 307.55,162.7 309.1,162.75 310.65,162.27 312.2,162.46 313.8,162.3 315.4,162.34 317,162.12 318.5,162.19 320,162.31 321.5,162.3" fill="none" stroke="#a444b2" stroke-width="1.15" stroke-linejoin="round"/>
<polygon points="235.1,139.6 239.3,139.6 237.2,143.1" fill="#000"/>
<polyline points="200.5,166.31 202,165.57 203.5,165.43 205,165.25 206.6,164.96 208.2,164.2 209.8,163.79 211.4,163.82 213.27,163.24 215.13,162.39 217,161.58 218.93,161.31 220.87,160.34 222.8,159.9 224.9,158.81 227,157.96 228.63,156.96 230.27,156.61 231.9,155.66 233.45,155.3 235,155.07 237.1,154.66 239,154.54 241,155.56 243.7,156.15 246,155.41 248.5,154.14 250.5,153.61 252.5,154.37 255.1,157.31 257.5,161.3 260.2,164.37 262.5,165.53 265,165.43 266.5,165.72 268,166.77 269.97,167.08 271.93,167.98 273.9,168.63 275.6,169.06 277.3,169.3 279,169.76 280.67,170.14 282.33,170.36 284,170.78 285.8,170.94 287.6,171.2 289.4,171.26 291.27,171.73 293.13,171.83 295,171.87 296.93,172.2 298.87,172.27 300.8,172.18 302.53,171.97 304.27,172.05 306,171.8 307.55,171.74 309.1,171.82 310.65,171.57 312.2,171.67 313.8,171.67 315.4,171.4 317,171.67 318.5,171.39 320,171.72 321.5,171.6" fill="none" stroke="#a444b2" stroke-width="1.15" stroke-linejoin="round"/>
<polygon points="235.1,148.9 239.3,148.9 237.2,152.4" fill="#000"/>
<polyline points="200.5,175.54 202,175.07 203.5,174.51 205,174.4 206.6,173.96 208.2,173.88 209.8,173.09 211.4,173.08 213.27,172.55 215.13,171.82 217,171.26 218.93,170.25 220.87,169.94 222.8,169 224.9,168.28 227,167.31 228.63,166.27 230.27,165.91 231.9,165.32 233.45,164.43 235,164.13 237.1,163.93 239,163.83 241,165.2 243.7,165.39 246,164.86 248.5,163.32 250.5,163.1 252.5,164.01 255.1,166.35 257.5,170.28 260.2,173.9 262.5,174.71 265,174.37 266.5,175.09 268,175.73 269.97,176.78 271.93,177.32 273.9,178.1 275.6,178.13 277.3,178.84 279,178.91 280.67,179.42 282.33,179.77 284,179.93 285.8,180.45 287.6,180.56 289.4,180.84 291.27,181.16 293.13,180.94 295,181.55 296.93,181.43 298.87,181.38 300.8,181.65 302.53,181.32 304.27,181.61 306,181.34 307.55,181.16 309.1,181.28 310.65,181.05 312.2,180.84 313.8,181.09 315.4,180.71 317,181.06 318.5,180.78 320,180.97 321.5,180.9" fill="none" stroke="#a444b2" stroke-width="1.15" stroke-linejoin="round"/>
<polygon points="235.1,158.2 239.3,158.2 237.2,161.7" fill="#000"/>
<polyline points="200.5,184.94 202,184.41 203.5,184.12 205,183.61 206.6,183.08 208.2,182.72 209.8,182.4 211.4,182.26 213.27,181.57 215.13,181.01 217,180.6 218.93,179.52 220.87,178.86 222.8,178.38 224.9,177.11 227,176.15 228.63,175.66 230.27,174.87 231.9,174.33 233.45,173.81 235,173.54 237.1,173.14 239,173.15 241,174.36 243.7,174.79 246,173.82 248.5,173.02 250.5,172.27 252.5,172.92 255.1,175.6 257.5,179.77 260.2,183.39 262.5,184.24 265,183.85 266.5,184.43 268,184.96 269.97,185.94 271.93,186.56 273.9,187.13 275.6,187.67 277.3,187.97 279,188.62 280.67,188.82 282.33,188.87 284,189.5 285.8,189.34 287.6,189.85 289.4,190.05 291.27,190.14 293.13,190.21 295,190.74 296.93,190.42 298.87,190.76 300.8,191.02 302.53,190.55 304.27,190.52 306,190.65 307.55,190.53 309.1,190.52 310.65,190.53 312.2,190.14 313.8,190.17 315.4,190.13 317,189.97 318.5,190.39 320,190.34 321.5,190.2" fill="none" stroke="#a444b2" stroke-width="1.15" stroke-linejoin="round"/>
<polygon points="235.1,167.5 239.3,167.5 237.2,171" fill="#000"/>
<polyline points="200.5,194.11 202,193.42 203.5,193.51 205,193.12 206.6,192.61 208.2,192.37 209.8,191.85 211.4,191.36 213.27,190.7 215.13,190.17 217,189.47 218.93,188.92 220.87,188.42 222.8,187.7 224.9,186.82 227,185.81 228.63,184.92 230.27,184.39 231.9,183.67 233.45,183.39 235,182.81 237.1,182.28 239,182.67 241,183.83 243.7,183.96 246,183.49 248.5,181.86 250.5,181.58 252.5,182.27 255.1,185.22 257.5,189.22 260.2,192.62 262.5,193.31 265,193.39 266.5,193.76 268,194.37 269.97,195.37 271.93,195.9 273.9,196.6 275.6,196.98 277.3,197.54 279,197.68 280.67,198.17 282.33,198.4 284,198.78 285.8,198.84 287.6,199.25 289.4,199.44 291.27,199.47 293.13,199.59 295,199.96 296.93,199.76 298.87,200.24 300.8,199.92 302.53,199.8 304.27,199.77 306,200.11 307.55,199.75 309.1,199.57 310.65,199.44 312.2,199.37 313.8,199.66 315.4,199.6 317,199.6 318.5,199.62 320,199.28 321.5,199.5" fill="none" stroke="#a444b2" stroke-width="1.15" stroke-linejoin="round"/>
<polygon points="235.1,176.8 239.3,176.8 237.2,180.3" fill="#000"/>
<polyline points="200.5,203.35 202,202.9 203.5,202.79 205,202.46 206.6,202.12 208.2,201.33 209.8,201.36 211.4,201.01 213.27,200.42 215.13,199.4 217,198.85 218.93,198.11 220.87,197.37 222.8,197.07 224.9,196.11 227,195.07 228.63,194.5 230.27,193.73 231.9,192.89 233.45,192.35 235,191.9 237.1,191.83 239,191.75 241,192.81 243.7,193.36 246,192.36 248.5,191.28 250.5,190.89 252.5,191.81 255.1,194.33 257.5,198.21 260.2,202.03 262.5,202.7 265,202.68 266.5,203.21 268,203.57 269.97,204.42 271.93,205.1 273.9,205.94 275.6,206.12 277.3,206.7 279,207.02 280.67,207.16 282.33,207.78 284,207.7 285.8,208.33 287.6,208.27 289.4,208.45 291.27,208.72 293.13,209.16 295,209.44 296.93,209.02 298.87,209.33 300.8,209.4 302.53,209.48 304.27,209.11 306,209.2 307.55,209.05 309.1,209.22 310.65,208.86 312.2,209.12 313.8,208.76 315.4,208.69 317,208.9 318.5,208.8 320,208.6 321.5,208.8" fill="none" stroke="#a444b2" stroke-width="1.15" stroke-linejoin="round"/>
<polygon points="235.1,186.1 239.3,186.1 237.2,189.6" fill="#000"/>
<polyline points="200.5,212.67 202,212.06 203.5,212.08 205,211.7 206.6,211.37 208.2,210.91 209.8,210.4 211.4,210.05 213.27,209.45 215.13,209.1 217,208.09 218.93,207.79 220.87,206.66 222.8,206.05 224.9,205.13 227,204.5 228.63,203.63 230.27,202.91 231.9,202.49 233.45,201.72 235,201.38 237.1,201.02 239,201.33 241,202.33 243.7,202.77 246,201.82 248.5,200.61 250.5,200.13 252.5,201.17 255.1,203.78 257.5,207.72 260.2,210.93 262.5,211.97 265,211.94 266.5,212.49 268,212.91 269.97,213.75 271.93,214.63 273.9,214.97 275.6,215.35 277.3,215.8 279,216.4 280.67,216.77 282.33,216.73 284,217.03 285.8,217.34 287.6,217.65 289.4,218.01 291.27,218 293.13,218.25 295,218.34 296.93,218.8 298.87,218.75 300.8,218.5 302.53,218.86 304.27,218.37 306,218.44 307.55,218.67 309.1,218.5 310.65,218.39 312.2,218.17 313.8,218.01 315.4,218.2 317,217.9 318.5,217.95 320,218.04 321.5,218.1" fill="none" stroke="#a444b2" stroke-width="1.15" stroke-linejoin="round"/>
<polygon points="235.1,195.4 239.3,195.4 237.2,198.9" fill="#000"/>
<polyline points="200.5,221.67 202,221.52 203.5,221.38 205,221 206.6,220.53 208.2,220.22 209.8,219.76 211.4,219.22 213.27,218.85 215.13,218.15 217,217.72 218.93,217.1 220.87,216.17 222.8,215.54 224.9,214.67 227,213.56 228.63,212.8 230.27,212.38 231.9,211.79 233.45,211.29 235,210.8 237.1,210.48 239,210.59 241,211.57 243.7,211.98 246,211.11 248.5,210.06 250.5,209.4 252.5,210.26 255.1,213.14 257.5,217.01 260.2,220.46 262.5,221.18 265,221.06 266.5,221.73 268,222.46 269.97,223.02 271.93,223.82 273.9,224.62 275.6,224.64 277.3,225.28 279,225.74 280.67,225.84 282.33,226.19 284,226.74 285.8,226.54 287.6,227.06 289.4,227.13 291.27,227.61 293.13,227.85 295,227.81 296.93,227.67 298.87,227.97 300.8,228.02 302.53,228.04 304.27,227.87 306,227.87 307.55,227.89 309.1,227.66 310.65,227.53 312.2,227.72 313.8,227.32 315.4,227.53 317,227.35 318.5,227.53 320,227.21 321.5,227.4" fill="none" stroke="#a444b2" stroke-width="1.15" stroke-linejoin="round"/>
<polygon points="235.1,204.7 239.3,204.7 237.2,208.2" fill="#000"/>
<polyline points="200.5,231.44 202,230.79 203.5,230.31 205,230.09 206.6,229.77 208.2,229.21 209.8,229.03 211.4,228.66 213.27,228.2 215.13,227.43 217,226.78 218.93,226.06 220.87,225.62 222.8,225.02 224.9,223.86 227,222.76 228.63,222.38 230.27,221.51 231.9,220.76 233.45,220.26 235,220.14 237.1,219.75 239,219.87 241,220.78 243.7,221.33 246,220.36 248.5,219.53 250.5,218.83 252.5,219.67 255.1,222.46 257.5,226.36 260.2,229.68 262.5,230.5 265,230.42 266.5,230.86 268,231.87 269.97,232.29 271.93,233.21 273.9,233.58 275.6,234.04 277.3,234.38 279,234.86 280.67,235.04 282.33,235.25 284,235.91 285.8,235.96 287.6,236.21 289.4,236.5 291.27,236.76 293.13,236.9 295,237.17 296.93,237.25 298.87,237.16 300.8,237.51 302.53,237.41 304.27,236.95 306,237.26 307.55,237.23 309.1,237.09 310.65,236.7 312.2,236.97 313.8,236.83 315.4,236.49 317,236.46 318.5,236.93 320,236.78 321.5,236.7" fill="none" stroke="#a444b2" stroke-width="1.15" stroke-linejoin="round"/>
<polygon points="235.1,214 239.3,214 237.2,217.5" fill="#000"/>
<polyline points="200.5,240.38 202,239.97 203.5,239.65 205,239.37 206.6,239.26 208.2,238.67 209.8,238.2 211.4,238.2 213.27,237.55 215.13,236.63 217,236.4 218.93,235.55 220.87,234.94 222.8,234.18 224.9,233.35 227,232.34 228.63,231.7 230.27,230.72 231.9,230.3 233.45,229.77 235,229.42 237.1,228.87 239,229.29 241,230.13 243.7,230.48 246,229.67 248.5,228.42 250.5,228.2 252.5,228.68 255.1,231.58 257.5,235.32 260.2,239 262.5,239.9 265,239.72 266.5,240.53 268,240.75 269.97,241.84 271.93,242.32 273.9,243.03 275.6,243.48 277.3,243.97 279,244.14 280.67,244.46 282.33,245.03 284,244.89 285.8,245.44 287.6,245.7 289.4,245.66 291.27,246.12 293.13,246.32 295,246.62 296.93,246.38 298.87,246.77 300.8,246.61 302.53,246.53 304.27,246.67 306,246.17 307.55,246.43 309.1,246.31 310.65,246.09 312.2,246.28 313.8,246 315.4,246.02 317,246.01 318.5,246.14 320,245.86 321.5,246" fill="none" stroke="#a444b2" stroke-width="1.15" stroke-linejoin="round"/>
<polygon points="235.1,223.3 239.3,223.3 237.2,226.8" fill="#000"/>
<polyline points="200.5,249.77 202,249.43 203.5,249.16 205,248.96 206.6,248.32 208.2,248.21 209.8,247.63 211.4,247.3 213.27,246.59 215.13,246.1 217,245.74 218.93,244.88 220.87,244.25 222.8,243.32 224.9,242.36 227,241.4 228.63,240.88 230.27,240.23 231.9,239.64 233.45,238.82 235,238.71 237.1,238.39 239,238.42 241,239.17 243.7,239.8 246,238.85 248.5,237.74 250.5,237.71 252.5,238.25 255.1,240.98 257.5,244.94 260.2,248.5 262.5,249.26 265,249.06 266.5,249.71 268,250.4 269.97,251.01 271.93,251.72 273.9,252.16 275.6,252.78 277.3,253.08 279,253.63 280.67,253.6 282.33,253.94 284,254.17 285.8,254.8 287.6,255.14 289.4,255.28 291.27,255.3 293.13,255.69 295,255.84 296.93,255.8 298.87,255.71 300.8,255.8 302.53,255.79 304.27,255.68 306,255.67 307.55,255.7 309.1,255.77 310.65,255.25 312.2,255.43 313.8,255.14 315.4,255.14 317,255.46 318.5,255.34 320,255.51 321.5,255.3" fill="none" stroke="#a444b2" stroke-width="1.15" stroke-linejoin="round"/>
<polygon points="235.1,232.6 239.3,232.6 237.2,236.1" fill="#000"/>
<polyline points="200.5,259.07 202,258.52 203.5,258.38 205,258.15 206.6,257.94 208.2,257.59 209.8,256.96 211.4,256.56 213.27,255.8 215.13,255.47 217,254.66 218.93,253.93 220.87,253.16 222.8,252.45 224.9,251.84 227,250.61 228.63,250.37 230.27,249.26 231.9,248.98 233.45,248.16 235,247.66 237.1,247.61 239,247.57 241,248.82 243.7,249.04 246,248.18 248.5,247.34 250.5,246.91 252.5,247.68 255.1,250.31 257.5,253.89 260.2,257.66 262.5,258.6 265,258.28 266.5,259.17 268,259.48 269.97,260.5 271.93,261.04 273.9,261.36 275.6,261.76 277.3,262.48 279,262.96 280.67,262.89 282.33,263.31 284,263.81 285.8,263.8 287.6,264.41 289.4,264.49 291.27,264.45 293.13,264.77 295,265.04 296.93,265.04 298.87,265.22 300.8,265.02 302.53,265.28 304.27,265 306,265.07 307.55,264.99 309.1,264.81 310.65,264.72 312.2,264.84 313.8,264.89 315.4,264.78 317,264.63 318.5,264.5 320,264.38 321.5,264.6" fill="none" stroke="#a444b2" stroke-width="1.15" stroke-linejoin="round"/>
<polygon points="235.1,241.9 239.3,241.9 237.2,245.4" fill="#000"/>
<polyline points="200.5,268.64 202,268.17 203.5,267.9 205,267.32 206.6,267.08 208.2,266.89 209.8,266.44 211.4,265.95 213.27,265.2 215.13,264.66 217,264.29 218.93,263.34 220.87,262.79 222.8,262.05 224.9,261.25 227,260.25 228.63,259.32 230.27,258.52 231.9,257.98 233.45,257.61 235,257.24 237.1,256.96 239,257.19 241,257.77 243.7,258.67 246,257.86 248.5,256.68 250.5,256.14 252.5,256.69 255.1,259.68 257.5,263.55 260.2,266.99 262.5,268.01 265,267.52 266.5,268.04 268,268.93 269.97,269.72 271.93,270.08 273.9,271.03 275.6,271.52 277.3,271.57 279,272.15 280.67,272.49 282.33,272.68 284,272.85 285.8,273.14 287.6,273.66 289.4,273.95 291.27,273.95 293.13,273.93 295,274.45 296.93,274.5 298.87,274.3 300.8,274.54 302.53,274.63 304.27,274.56 306,274.31 307.55,274.21 309.1,274.19 310.65,273.92 312.2,273.85 313.8,273.81 315.4,274.03 317,273.83 318.5,273.93 320,273.85 321.5,273.9" fill="none" stroke="#a444b2" stroke-width="1.15" stroke-linejoin="round"/>
<polygon points="235.1,251.2 239.3,251.2 237.2,254.7" fill="#000"/>
<polyline points="200.5,277.71 202,277.19 203.5,276.81 205,276.95 206.6,276.26 208.2,275.75 209.8,275.64 211.4,275.34 213.27,274.43 215.13,274.05 217,273.32 218.93,272.71 220.87,271.76 222.8,271.07 224.9,270.6 227,269.58 228.63,268.73 230.27,268.1 231.9,267.28 233.45,267.09 235,266.46 237.1,266.32 239,266.43 241,267.46 243.7,268.03 246,266.88 248.5,265.57 250.5,265.25 252.5,265.94 255.1,268.59 257.5,272.48 260.2,276.23 262.5,277.29 265,276.88 266.5,277.77 268,278.4 269.97,278.65 271.93,279.58 273.9,280.15 275.6,280.41 277.3,281.23 279,281.28 280.67,281.73 282.33,282.07 284,282.53 285.8,282.65 287.6,282.78 289.4,283.07 291.27,283.1 293.13,283.67 295,283.85 296.93,283.53 298.87,283.5 300.8,283.68 302.53,283.66 304.27,283.87 306,283.8 307.55,283.69 309.1,283.22 310.65,283.52 312.2,283.4 313.8,283.34 315.4,283.48 317,282.98 318.5,283.02 320,283.33 321.5,283.2" fill="none" stroke="#a444b2" stroke-width="1.15" stroke-linejoin="round"/>
<polygon points="235.1,260.5 239.3,260.5 237.2,264" fill="#000"/>
<polyline points="200.5,287.22 202,286.76 203.5,286.23 205,286.05 206.6,285.75 208.2,285.05 209.8,284.79 211.4,284.38 213.27,283.71 215.13,283.29 217,282.53 218.93,281.87 220.87,281.12 222.8,280.69 224.9,279.41 227,278.81 228.63,277.88 230.27,277.13 231.9,276.91 233.45,276.11 235,276.02 237.1,275.58 239,275.79 241,276.42 243.7,277.07 246,276.1 248.5,275.31 250.5,274.87 252.5,275.46 255.1,278.08 257.5,281.92 260.2,285.66 262.5,286.39 265,286.26 266.5,286.67 268,287.36 269.97,287.95 271.93,288.94 273.9,289.53 275.6,289.72 277.3,290.49 279,290.58 280.67,290.96 282.33,291.13 284,291.49 285.8,292.04 287.6,292.05 289.4,292.23 291.27,292.56 293.13,292.64 295,293.1 296.93,292.77 298.87,293.27 300.8,292.88 302.53,293.23 304.27,293.05 306,292.76 307.55,292.81 309.1,292.64 310.65,292.55 312.2,292.45 313.8,292.5 315.4,292.78 317,292.75 318.5,292.71 320,292.3 321.5,292.5" fill="none" stroke="#a444b2" stroke-width="1.15" stroke-linejoin="round"/>
<polygon points="235.1,269.8 239.3,269.8 237.2,273.3" fill="#000"/>
<polyline points="200.5,296.19 202,296.16 203.5,295.41 205,295.41 206.6,294.82 208.2,294.79 209.8,293.93 211.4,293.95 213.27,293.12 215.13,292.42 217,291.75 218.93,291.47 220.87,290.61 222.8,289.74 224.9,288.92 227,288.21 228.63,287.19 230.27,286.7 231.9,285.82 233.45,285.39 235,285.24 237.1,284.81 239,284.75 241,285.69 243.7,286.19 246,285.65 248.5,284.4 250.5,283.89 252.5,284.55 255.1,287.46 257.5,291.4 260.2,294.96 262.5,295.74 265,295.35 266.5,295.93 268,296.92 269.97,297.42 271.93,298.24 273.9,298.58 275.6,299.36 277.3,299.52 279,300.17 280.67,300.48 282.33,300.6 284,300.66 285.8,301.37 287.6,301.42 289.4,301.89 291.27,301.75 293.13,301.88 295,302.37 296.93,302.2 298.87,302.17 300.8,302.34 302.53,302.38 304.27,302.02 306,302.21 307.55,302.1 309.1,302.06 310.65,301.79 312.2,302.01 313.8,302.02 315.4,302.02 317,301.71 318.5,301.91 320,301.74 321.5,301.8" fill="none" stroke="#a444b2" stroke-width="1.15" stroke-linejoin="round"/>
<polygon points="235.1,279.1 239.3,279.1 237.2,282.6" fill="#000"/>
<polyline points="200.5,303.33 202,302.58 203.5,302.59 205,302.23 206.67,301.56 208.33,301.14 210,300.72 211.5,300.32 213,299.66 214.5,299.73 216,298.96 217.67,298.24 219.33,297.5 221,296.88 223,295.61 225,293.67 226.75,292.75 228.5,292.1 230,292.45 231.5,292.96 233.55,294.45 235.6,295.64 238.5,297.21 240.2,297.65 241.9,297.7 243.45,297.23 245,296.31 247.5,293.47 249.9,292.71 252.5,293.7 255.2,295.6 258,300.59 260.6,304.81 262.5,304.65 264.1,304.32 266.05,305.3 268,306.18 269.7,306.35 271.4,307.09 273.1,307.7 274.8,307.93 276.53,308.63 278.27,309.05 280,309.14 281.5,309.41 283,309.87 284.5,309.96 286,310.15 287.65,310.55 289.3,310.59 290.95,310.49 292.6,310.57 294.2,310.54 295.8,310.52 297.4,310.72 299,310.55 300.58,310.39 302.16,310.12 303.74,309.91 305.32,309.3 306.9,309.31 308.67,309.25 310.45,308.97 312.23,308.35 314,308.16 315.5,308.13 317,307.85 318.5,307.8 320,307.42 321.5,307.5" fill="none" stroke="#4040f4" stroke-width="1.2" stroke-linejoin="round"/>
<polygon points="225.7,286.8 229.9,286.8 227.8,290.3" fill="#000"/>
<text x="325.3" y="48" font-size="7.4" text-anchor="start" font-weight="normal" fill="#222" font-family="'Liberation Sans', sans-serif"  textLength="20.8" lengthAdjust="spacingAndGlyphs">0.41 T</text>
<text x="323.9" y="135.3" font-size="7.4" text-anchor="start" font-weight="normal" fill="#222" font-family="'Liberation Sans', sans-serif"  textLength="23.6" lengthAdjust="spacingAndGlyphs">–0.13 T</text>
<text x="323.9" y="145.2" font-size="7.4" text-anchor="start" font-weight="normal" fill="#222" font-family="'Liberation Sans', sans-serif"  textLength="23.6" lengthAdjust="spacingAndGlyphs">–0.17 T</text>
<text x="323.6" y="301.6" font-size="7.4" text-anchor="start" font-weight="normal" fill="#222" font-family="'Liberation Sans', sans-serif"  textLength="26" lengthAdjust="spacingAndGlyphs">–0.96 T</text>
<text x="323.6" y="311" font-size="7.4" text-anchor="start" font-weight="normal" fill="#222" font-family="'Liberation Sans', sans-serif"  textLength="24.2" lengthAdjust="spacingAndGlyphs">–1.06 T</text>
<line x1="335.5" y1="53.8" x2="335.5" y2="115" stroke="#000" stroke-width="1.1"/>
<polygon points="333.4,114.5 337.6,114.5 335.5,118.6" fill="#000"/>
<line x1="335.5" y1="156" x2="335.5" y2="283" stroke="#000" stroke-width="1.1"/>
<polygon points="333.4,282.6 337.6,282.6 335.5,286.7" fill="#000"/>
<rect x="398.5" y="6.5" width="282.0" height="139.0" fill="none" stroke="#7a7a7a" stroke-width="1"/>
<text x="398.5" y="155.4" font-size="7.8" text-anchor="middle" font-weight="normal" fill="#222" font-family="'Liberation Sans', sans-serif" >–1.5</text>
<line x1="445.5" y1="145.5" x2="445.5" y2="143.0" stroke="#7a7a7a" stroke-width="0.8"/>
<text x="445.5" y="155.4" font-size="7.8" text-anchor="middle" font-weight="normal" fill="#222" font-family="'Liberation Sans', sans-serif" >–1.0</text>
<line x1="492.5" y1="145.5" x2="492.5" y2="143.0" stroke="#7a7a7a" stroke-width="0.8"/>
<text x="492.5" y="155.4" font-size="7.8" text-anchor="middle" font-weight="normal" fill="#222" font-family="'Liberation Sans', sans-serif" >–0.5</text>
<line x1="539.5" y1="145.5" x2="539.5" y2="143.0" stroke="#7a7a7a" stroke-width="0.8"/>
<text x="539.5" y="155.4" font-size="7.8" text-anchor="middle" font-weight="normal" fill="#222" font-family="'Liberation Sans', sans-serif" >0</text>
<line x1="586.5" y1="145.5" x2="586.5" y2="143.0" stroke="#7a7a7a" stroke-width="0.8"/>
<text x="586.5" y="155.4" font-size="7.8" text-anchor="middle" font-weight="normal" fill="#222" font-family="'Liberation Sans', sans-serif" >0.5</text>
<line x1="633.5" y1="145.5" x2="633.5" y2="143.0" stroke="#7a7a7a" stroke-width="0.8"/>
<text x="633.5" y="155.4" font-size="7.8" text-anchor="middle" font-weight="normal" fill="#222" font-family="'Liberation Sans', sans-serif" >1.0</text>
<text x="680.5" y="155.4" font-size="7.8" text-anchor="middle" font-weight="normal" fill="#222" font-family="'Liberation Sans', sans-serif" >1.5</text>
<text x="395.5" y="9.2" font-size="7.8" text-anchor="end" font-weight="normal" fill="#222" font-family="'Liberation Sans', sans-serif" >–1.5</text>
<line x1="398.5" y1="47.47" x2="401.0" y2="47.47" stroke="#7a7a7a" stroke-width="0.8"/>
<text x="395.5" y="50.17" font-size="7.8" text-anchor="end" font-weight="normal" fill="#222" font-family="'Liberation Sans', sans-serif" >–2.0</text>
<line x1="398.5" y1="88.44" x2="401.0" y2="88.44" stroke="#7a7a7a" stroke-width="0.8"/>
<text x="395.5" y="91.14" font-size="7.8" text-anchor="end" font-weight="normal" fill="#222" font-family="'Liberation Sans', sans-serif" >–2.5</text>
<line x1="398.5" y1="129.41" x2="401.0" y2="129.41" stroke="#7a7a7a" stroke-width="0.8"/>
<text x="395.5" y="132.11" font-size="7.8" text-anchor="end" font-weight="normal" fill="#222" font-family="'Liberation Sans', sans-serif" >–3.0</text>
<text x="539.8" y="167.7" text-anchor="middle" font-size="8.4" fill="#222" textLength="21" lengthAdjust="spacingAndGlyphs" font-family="'Liberation Sans', sans-serif"><tspan font-style="italic">B</tspan><tspan font-size="5.6" dy="1.8" font-style="italic">z</tspan><tspan dy="-1.8"> (T)</tspan></text>
<text transform="translate(371.3,80.4) rotate(-90)" text-anchor="middle" font-size="8.4" fill="#222" textLength="31" lengthAdjust="spacingAndGlyphs" font-family="'Liberation Sans', sans-serif"><tspan font-style="italic">E</tspan><tspan font-size="5.6" dy="1.8">PI</tspan><tspan dy="-1.8"> (mV)</tspan></text>
<rect x="398.5" y="186.5" width="282.0" height="139.0" fill="none" stroke="#7a7a7a" stroke-width="1"/>
<text x="398.5" y="335.4" font-size="7.8" text-anchor="middle" font-weight="normal" fill="#222" font-family="'Liberation Sans', sans-serif" >–1.5</text>
<line x1="445.5" y1="325.5" x2="445.5" y2="323.0" stroke="#7a7a7a" stroke-width="0.8"/>
<text x="445.5" y="335.4" font-size="7.8" text-anchor="middle" font-weight="normal" fill="#222" font-family="'Liberation Sans', sans-serif" >–1.0</text>
<line x1="492.5" y1="325.5" x2="492.5" y2="323.0" stroke="#7a7a7a" stroke-width="0.8"/>
<text x="492.5" y="335.4" font-size="7.8" text-anchor="middle" font-weight="normal" fill="#222" font-family="'Liberation Sans', sans-serif" >–0.5</text>
<line x1="539.5" y1="325.5" x2="539.5" y2="323.0" stroke="#7a7a7a" stroke-width="0.8"/>
<text x="539.5" y="335.4" font-size="7.8" text-anchor="middle" font-weight="normal" fill="#222" font-family="'Liberation Sans', sans-serif" >0</text>
<line x1="586.5" y1="325.5" x2="586.5" y2="323.0" stroke="#7a7a7a" stroke-width="0.8"/>
<text x="586.5" y="335.4" font-size="7.8" text-anchor="middle" font-weight="normal" fill="#222" font-family="'Liberation Sans', sans-serif" >0.5</text>
<line x1="633.5" y1="325.5" x2="633.5" y2="323.0" stroke="#7a7a7a" stroke-width="0.8"/>
<text x="633.5" y="335.4" font-size="7.8" text-anchor="middle" font-weight="normal" fill="#222" font-family="'Liberation Sans', sans-serif" >1.0</text>
<text x="680.5" y="335.4" font-size="7.8" text-anchor="middle" font-weight="normal" fill="#222" font-family="'Liberation Sans', sans-serif" >1.5</text>
<text x="395.5" y="189.2" font-size="7.8" text-anchor="end" font-weight="normal" fill="#222" font-family="'Liberation Sans', sans-serif" >–1.5</text>
<line x1="398.5" y1="227.47" x2="401.0" y2="227.47" stroke="#7a7a7a" stroke-width="0.8"/>
<text x="395.5" y="230.17" font-size="7.8" text-anchor="end" font-weight="normal" fill="#222" font-family="'Liberation Sans', sans-serif" >–2.0</text>
<line x1="398.5" y1="268.44" x2="401.0" y2="268.44" stroke="#7a7a7a" stroke-width="0.8"/>
<text x="395.5" y="271.14" font-size="7.8" text-anchor="end" font-weight="normal" fill="#222" font-family="'Liberation Sans', sans-serif" >–2.5</text>
<line x1="398.5" y1="309.41" x2="401.0" y2="309.41" stroke="#7a7a7a" stroke-width="0.8"/>
<text x="395.5" y="312.11" font-size="7.8" text-anchor="end" font-weight="normal" fill="#222" font-family="'Liberation Sans', sans-serif" >–3.0</text>
<text x="539.8" y="347.7" text-anchor="middle" font-size="8.4" fill="#222" textLength="21" lengthAdjust="spacingAndGlyphs" font-family="'Liberation Sans', sans-serif"><tspan font-style="italic">B</tspan><tspan font-size="5.6" dy="1.8" font-style="italic">z</tspan><tspan dy="-1.8"> (T)</tspan></text>
<text transform="translate(371.3,255.8) rotate(-90)" text-anchor="middle" font-size="8.4" fill="#222" textLength="31" lengthAdjust="spacingAndGlyphs" font-family="'Liberation Sans', sans-serif"><tspan font-style="italic">E</tspan><tspan font-size="5.6" dy="1.8">PI</tspan><tspan dy="-1.8"> (mV)</tspan></text>
<rect x="410.35" y="69.7" width="1.5" height="5.3" fill="#3b3bf8"/>
<polygon points="408.9,74.7 413.3,74.7 411.1,78.6" fill="#3b3bf8"/>
<rect x="418.15" y="69.7" width="1.5" height="5.3" fill="#3b3bf8"/>
<polygon points="416.7,74.7 421.1,74.7 418.9,78.6" fill="#3b3bf8"/>
<rect x="426.05" y="69.7" width="1.5" height="5.3" fill="#3b3bf8"/>
<polygon points="424.6,74.7 429,74.7 426.8,78.6" fill="#3b3bf8"/>
<rect x="410.35" y="85.1" width="1.5" height="5.3" fill="#3b3bf8"/>
<polygon points="408.9,90.1 413.3,90.1 411.1,94" fill="#3b3bf8"/>
<rect x="418.15" y="85.1" width="1.5" height="5.3" fill="#3b3bf8"/>
<polygon points="416.7,90.1 421.1,90.1 418.9,94" fill="#3b3bf8"/>
<rect x="426.05" y="85.1" width="1.5" height="5.3" fill="#3b3bf8"/>
<polygon points="424.6,90.1 429,90.1 426.8,94" fill="#3b3bf8"/>
<rect x="476.25" y="64.9" width="1.5" height="5.8" fill="#f83b3b"/>
<polygon points="474.8,65.2 479.2,65.2 477,61.3" fill="#f83b3b"/>
<rect x="484.05" y="64.9" width="1.5" height="5.8" fill="#f83b3b"/>
<polygon points="482.6,65.2 487,65.2 484.8,61.3" fill="#f83b3b"/>
<rect x="491.95" y="64.9" width="1.5" height="5.8" fill="#f83b3b"/>
<polygon points="490.5,65.2 494.9,65.2 492.7,61.3" fill="#f83b3b"/>
<rect x="476.25" y="75" width="1.5" height="5.8" fill="#3b3bf8"/>
<polygon points="474.8,80.5 479.2,80.5 477,84.4" fill="#3b3bf8"/>
<rect x="484.05" y="75" width="1.5" height="5.8" fill="#3b3bf8"/>
<polygon points="482.6,80.5 487,80.5 484.8,84.4" fill="#3b3bf8"/>
<rect x="491.95" y="75" width="1.5" height="5.8" fill="#3b3bf8"/>
<polygon points="490.5,80.5 494.9,80.5 492.7,84.4" fill="#3b3bf8"/>
<rect x="476.25" y="112.7" width="1.5" height="5.8" fill="#3b3bf8"/>
<polygon points="474.8,118.2 479.2,118.2 477,122.1" fill="#3b3bf8"/>
<rect x="484.05" y="112.7" width="1.5" height="5.8" fill="#3b3bf8"/>
<polygon points="482.6,118.2 487,118.2 484.8,122.1" fill="#3b3bf8"/>
<rect x="491.95" y="112.7" width="1.5" height="5.8" fill="#3b3bf8"/>
<polygon points="490.5,118.2 494.9,118.2 492.7,122.1" fill="#3b3bf8"/>
<rect x="476.25" y="128" width="1.5" height="5.9" fill="#3b3bf8"/>
<polygon points="474.8,133.6 479.2,133.6 477,137.5" fill="#3b3bf8"/>
<rect x="484.05" y="128" width="1.5" height="5.9" fill="#3b3bf8"/>
<polygon points="482.6,133.6 487,133.6 484.8,137.5" fill="#3b3bf8"/>
<rect x="491.95" y="128" width="1.5" height="5.9" fill="#3b3bf8"/>
<polygon points="490.5,133.6 494.9,133.6 492.7,137.5" fill="#3b3bf8"/>
<rect x="581.45" y="60" width="1.5" height="5.8" fill="#3b3bf8"/>
<polygon points="580,65.5 584.4,65.5 582.2,69.4" fill="#3b3bf8"/>
<rect x="589.35" y="60" width="1.5" height="5.8" fill="#3b3bf8"/>
<polygon points="587.9,65.5 592.3,65.5 590.1,69.4" fill="#3b3bf8"/>
<rect x="597.15" y="60" width="1.5" height="5.8" fill="#3b3bf8"/>
<polygon points="595.7,65.5 600.1,65.5 597.9,69.4" fill="#3b3bf8"/>
<rect x="581.45" y="79.8" width="1.5" height="5.8" fill="#f83b3b"/>
<polygon points="580,80.1 584.4,80.1 582.2,76.2" fill="#f83b3b"/>
<rect x="589.35" y="79.8" width="1.5" height="5.8" fill="#f83b3b"/>
<polygon points="587.9,80.1 592.3,80.1 590.1,76.2" fill="#f83b3b"/>
<rect x="597.15" y="79.8" width="1.5" height="5.8" fill="#f83b3b"/>
<polygon points="595.7,80.1 600.1,80.1 597.9,76.2" fill="#f83b3b"/>
<rect x="581.45" y="117.5" width="1.5" height="6" fill="#f83b3b"/>
<polygon points="580,117.8 584.4,117.8 582.2,113.9" fill="#f83b3b"/>
<rect x="589.35" y="117.5" width="1.5" height="6" fill="#f83b3b"/>
<polygon points="587.9,117.8 592.3,117.8 590.1,113.9" fill="#f83b3b"/>
<rect x="597.15" y="117.5" width="1.5" height="6" fill="#f83b3b"/>
<polygon points="595.7,117.8 600.1,117.8 597.9,113.9" fill="#f83b3b"/>
<rect x="581.45" y="132.8" width="1.5" height="6.2" fill="#f83b3b"/>
<polygon points="580,133.1 584.4,133.1 582.2,129.2" fill="#f83b3b"/>
<rect x="589.35" y="132.8" width="1.5" height="6.2" fill="#f83b3b"/>
<polygon points="587.9,133.1 592.3,133.1 590.1,129.2" fill="#f83b3b"/>
<rect x="597.15" y="132.8" width="1.5" height="6.2" fill="#f83b3b"/>
<polygon points="595.7,133.1 600.1,133.1 597.9,129.2" fill="#f83b3b"/>
<rect x="645.65" y="74.4" width="1.5" height="5.9" fill="#f83b3b"/>
<polygon points="644.2,74.7 648.6,74.7 646.4,70.8" fill="#f83b3b"/>
<rect x="653.65" y="74.4" width="1.5" height="5.9" fill="#f83b3b"/>
<polygon points="652.2,74.7 656.6,74.7 654.4,70.8" fill="#f83b3b"/>
<rect x="661.65" y="74.4" width="1.5" height="5.9" fill="#f83b3b"/>
<polygon points="660.2,74.7 664.6,74.7 662.4,70.8" fill="#f83b3b"/>
<rect x="645.65" y="89.6" width="1.5" height="6" fill="#f83b3b"/>
<polygon points="644.2,89.9 648.6,89.9 646.4,86" fill="#f83b3b"/>
<rect x="653.65" y="89.6" width="1.5" height="6" fill="#f83b3b"/>
<polygon points="652.2,89.9 656.6,89.9 654.4,86" fill="#f83b3b"/>
<rect x="661.65" y="89.6" width="1.5" height="6" fill="#f83b3b"/>
<polygon points="660.2,89.9 664.6,89.9 662.4,86" fill="#f83b3b"/>
<rect x="476.75" y="266.8" width="1.5" height="5.6" fill="#3b3bf8"/>
<polygon points="475.3,272.1 479.7,272.1 477.5,276" fill="#3b3bf8"/>
<rect x="484.75" y="266.8" width="1.5" height="5.6" fill="#3b3bf8"/>
<polygon points="483.3,272.1 487.7,272.1 485.5,276" fill="#3b3bf8"/>
<rect x="492.75" y="266.8" width="1.5" height="5.6" fill="#3b3bf8"/>
<polygon points="491.3,272.1 495.7,272.1 493.5,276" fill="#3b3bf8"/>
<rect x="476.75" y="282.2" width="1.5" height="5.5" fill="#3b3bf8"/>
<polygon points="475.3,287.4 479.7,287.4 477.5,291.3" fill="#3b3bf8"/>
<rect x="484.75" y="282.2" width="1.5" height="5.5" fill="#3b3bf8"/>
<polygon points="483.3,287.4 487.7,287.4 485.5,291.3" fill="#3b3bf8"/>
<rect x="492.75" y="282.2" width="1.5" height="5.5" fill="#3b3bf8"/>
<polygon points="491.3,287.4 495.7,287.4 493.5,291.3" fill="#3b3bf8"/>
<rect x="585.05" y="217.3" width="1.5" height="5.7" fill="#3b3bf8"/>
<polygon points="583.6,222.7 588,222.7 585.8,226.6" fill="#3b3bf8"/>
<rect x="593.05" y="217.3" width="1.5" height="5.7" fill="#3b3bf8"/>
<polygon points="591.6,222.7 596,222.7 593.8,226.6" fill="#3b3bf8"/>
<rect x="600.85" y="217.3" width="1.5" height="5.7" fill="#3b3bf8"/>
<polygon points="599.4,222.7 603.8,222.7 601.6,226.6" fill="#3b3bf8"/>
<rect x="585.05" y="237.6" width="1.5" height="5.6" fill="#f83b3b"/>
<polygon points="583.6,237.9 588,237.9 585.8,234" fill="#f83b3b"/>
<rect x="593.05" y="237.6" width="1.5" height="5.6" fill="#f83b3b"/>
<polygon points="591.6,237.9 596,237.9 593.8,234" fill="#f83b3b"/>
<rect x="600.85" y="237.6" width="1.5" height="5.6" fill="#f83b3b"/>
<polygon points="599.4,237.9 603.8,237.9 601.6,234" fill="#f83b3b"/>
<polyline points="447,109.2 558.3,96.5 558.8,50.5 629.8,38.5 630,110 680.5,114.5" fill="none" stroke="#bdbdbd" stroke-width="2.4" stroke-linejoin="round"/>
<polyline points="680,114.5 630,110" fill="none" stroke="none" stroke-width="2" stroke-linejoin="round"/>
<polyline points="630,110 525.2,97 524.8,51 448.6,37.5 446.6,109.2 398.5,113.3" fill="none" stroke="#454545" stroke-width="2.3" stroke-linejoin="round"/>
<line x1="447.9" y1="29.6" x2="447.9" y2="44.48" stroke="#c58ad0" stroke-width="0.8"/>
<line x1="450.8" y1="28.17" x2="450.8" y2="49.72" stroke="#c58ad0" stroke-width="0.8"/>
<line x1="453.54" y1="27.1" x2="453.54" y2="50.44" stroke="#c58ad0" stroke-width="0.8"/>
<line x1="456.48" y1="30" x2="456.48" y2="47.23" stroke="#c58ad0" stroke-width="0.8"/>
<line x1="459.3" y1="32.45" x2="459.3" y2="47.5" stroke="#c58ad0" stroke-width="0.8"/>
<line x1="462.57" y1="33.79" x2="462.57" y2="45.11" stroke="#c58ad0" stroke-width="0.8"/>
<line x1="465.05" y1="30.88" x2="465.05" y2="48.52" stroke="#c58ad0" stroke-width="0.8"/>
<line x1="468.35" y1="33.17" x2="468.35" y2="48.75" stroke="#c58ad0" stroke-width="0.8"/>
<line x1="470.42" y1="37.26" x2="470.42" y2="46.44" stroke="#c58ad0" stroke-width="0.8"/>
<line x1="473.96" y1="38.37" x2="473.96" y2="48.83" stroke="#c58ad0" stroke-width="0.8"/>
<line x1="476.94" y1="41.72" x2="476.94" y2="47.63" stroke="#c58ad0" stroke-width="0.8"/>
<line x1="478.97" y1="44.07" x2="478.97" y2="49.6" stroke="#c58ad0" stroke-width="0.8"/>
<line x1="481.06" y1="40.37" x2="481.06" y2="52.54" stroke="#c58ad0" stroke-width="0.8"/>
<line x1="483.45" y1="41.88" x2="483.45" y2="48.48" stroke="#c58ad0" stroke-width="0.8"/>
<line x1="486.19" y1="40.15" x2="486.19" y2="50.18" stroke="#c58ad0" stroke-width="0.8"/>
<line x1="489.54" y1="40.21" x2="489.54" y2="49.23" stroke="#c58ad0" stroke-width="0.8"/>
<line x1="492.57" y1="42.22" x2="492.57" y2="48.93" stroke="#c58ad0" stroke-width="0.8"/>
<line x1="495.63" y1="40.76" x2="495.63" y2="52.35" stroke="#c58ad0" stroke-width="0.8"/>
<line x1="498.07" y1="45.08" x2="498.07" y2="51.26" stroke="#c58ad0" stroke-width="0.8"/>
<line x1="501.66" y1="43.16" x2="501.66" y2="53.95" stroke="#c58ad0" stroke-width="0.8"/>
<line x1="504.8" y1="45.01" x2="504.8" y2="51.05" stroke="#c58ad0" stroke-width="0.8"/>
<line x1="507.16" y1="44.05" x2="507.16" y2="52.83" stroke="#c58ad0" stroke-width="0.8"/>
<line x1="509.28" y1="46.41" x2="509.28" y2="53.33" stroke="#c58ad0" stroke-width="0.8"/>
<line x1="511.92" y1="46.91" x2="511.92" y2="54.34" stroke="#c58ad0" stroke-width="0.8"/>
<line x1="514.54" y1="44.47" x2="514.54" y2="58.21" stroke="#c58ad0" stroke-width="0.8"/>
<line x1="517.89" y1="43.48" x2="517.89" y2="55.71" stroke="#c58ad0" stroke-width="0.8"/>
<line x1="520.23" y1="47.66" x2="520.23" y2="55.4" stroke="#c58ad0" stroke-width="0.8"/>
<line x1="522.98" y1="45.36" x2="522.98" y2="58.32" stroke="#c58ad0" stroke-width="0.8"/>
<line x1="522.8" y1="42.55" x2="522.8" y2="49.45" stroke="#c58ad0" stroke-width="0.8"/>
<line x1="524.2" y1="39.73" x2="524.2" y2="48.27" stroke="#c58ad0" stroke-width="0.8"/>
<polygon points="445.31,37.04 450.01,34.69 450.01,39.39" fill="#9a3fa6"/>
<polygon points="448.21,38.95 452.91,36.6 452.91,41.3" fill="#9a3fa6"/>
<polygon points="450.96,38.77 455.66,36.42 455.66,41.12" fill="#9a3fa6"/>
<polygon points="453.9,38.62 458.6,36.27 458.6,40.97" fill="#9a3fa6"/>
<polygon points="456.71,39.98 461.41,37.63 461.41,42.33" fill="#9a3fa6"/>
<polygon points="459.98,39.45 464.68,37.1 464.68,41.8" fill="#9a3fa6"/>
<polygon points="462.47,39.7 467.17,37.35 467.17,42.05" fill="#9a3fa6"/>
<polygon points="465.76,40.96 470.46,38.61 470.46,43.31" fill="#9a3fa6"/>
<polygon points="467.83,41.85 472.53,39.5 472.53,44.2" fill="#9a3fa6"/>
<polygon points="471.37,43.6 476.07,41.25 476.07,45.95" fill="#9a3fa6"/>
<polygon points="474.36,44.68 479.06,42.33 479.06,47.03" fill="#9a3fa6"/>
<polygon points="476.38,46.83 481.08,44.48 481.08,49.18" fill="#9a3fa6"/>
<polygon points="478.48,46.45 483.18,44.1 483.18,48.8" fill="#9a3fa6"/>
<polygon points="480.87,45.18 485.57,42.83 485.57,47.53" fill="#9a3fa6"/>
<polygon points="483.61,45.17 488.31,42.82 488.31,47.52" fill="#9a3fa6"/>
<polygon points="486.96,44.72 491.66,42.37 491.66,47.07" fill="#9a3fa6"/>
<polygon points="489.98,45.57 494.68,43.22 494.68,47.92" fill="#9a3fa6"/>
<polygon points="493.04,46.55 497.74,44.2 497.74,48.9" fill="#9a3fa6"/>
<polygon points="495.49,48.17 500.19,45.82 500.19,50.52" fill="#9a3fa6"/>
<polygon points="499.08,48.56 503.78,46.21 503.78,50.91" fill="#9a3fa6"/>
<polygon points="502.21,48.03 506.91,45.68 506.91,50.38" fill="#9a3fa6"/>
<polygon points="504.58,48.44 509.28,46.09 509.28,50.79" fill="#9a3fa6"/>
<polygon points="506.69,49.87 511.39,47.52 511.39,52.22" fill="#9a3fa6"/>
<polygon points="509.33,50.62 514.03,48.27 514.03,52.97" fill="#9a3fa6"/>
<polygon points="511.95,51.34 516.65,48.99 516.65,53.69" fill="#9a3fa6"/>
<polygon points="515.31,49.6 520.01,47.25 520.01,51.95" fill="#9a3fa6"/>
<polygon points="517.64,51.53 522.34,49.18 522.34,53.88" fill="#9a3fa6"/>
<polygon points="520.39,51.84 525.09,49.49 525.09,54.19" fill="#9a3fa6"/>
<polygon points="520.21,46 524.91,43.65 524.91,48.35" fill="#9a3fa6"/>
<polygon points="521.62,44 526.32,41.65 526.32,46.35" fill="#9a3fa6"/>
<line x1="558.4" y1="45.01" x2="558.4" y2="56.92" stroke="#c58ad0" stroke-width="0.8"/>
<line x1="560.38" y1="42.45" x2="560.38" y2="56.42" stroke="#c58ad0" stroke-width="0.8"/>
<line x1="562.67" y1="43.09" x2="562.67" y2="55.39" stroke="#c58ad0" stroke-width="0.8"/>
<line x1="564.3" y1="44.88" x2="564.3" y2="54.84" stroke="#c58ad0" stroke-width="0.8"/>
<line x1="568.79" y1="41.15" x2="568.79" y2="55.57" stroke="#c58ad0" stroke-width="0.8"/>
<line x1="572.9" y1="42.63" x2="572.9" y2="52.06" stroke="#c58ad0" stroke-width="0.8"/>
<line x1="577.78" y1="42.73" x2="577.78" y2="50.84" stroke="#c58ad0" stroke-width="0.8"/>
<line x1="582.68" y1="41.24" x2="582.68" y2="51.12" stroke="#c58ad0" stroke-width="0.8"/>
<line x1="587.36" y1="40.79" x2="587.36" y2="51.91" stroke="#c58ad0" stroke-width="0.8"/>
<line x1="592.09" y1="40.74" x2="592.09" y2="49.16" stroke="#c58ad0" stroke-width="0.8"/>
<line x1="597.39" y1="38.83" x2="597.39" y2="48.07" stroke="#c58ad0" stroke-width="0.8"/>
<line x1="601.62" y1="38.62" x2="601.62" y2="49.2" stroke="#c58ad0" stroke-width="0.8"/>
<line x1="606.84" y1="35.99" x2="606.84" y2="48" stroke="#c58ad0" stroke-width="0.8"/>
<line x1="611.13" y1="35.98" x2="611.13" y2="48.16" stroke="#c58ad0" stroke-width="0.8"/>
<line x1="613.37" y1="33.7" x2="613.37" y2="47.96" stroke="#c58ad0" stroke-width="0.8"/>
<line x1="615.63" y1="32.04" x2="615.63" y2="51.06" stroke="#c58ad0" stroke-width="0.8"/>
<line x1="617.57" y1="30.58" x2="617.57" y2="50.41" stroke="#c58ad0" stroke-width="0.8"/>
<line x1="619.07" y1="31.18" x2="619.07" y2="48.09" stroke="#c58ad0" stroke-width="0.8"/>
<line x1="621.33" y1="30.97" x2="621.33" y2="48.19" stroke="#c58ad0" stroke-width="0.8"/>
<line x1="623.37" y1="31.14" x2="623.37" y2="47.4" stroke="#c58ad0" stroke-width="0.8"/>
<line x1="625.51" y1="33.33" x2="625.51" y2="45.59" stroke="#c58ad0" stroke-width="0.8"/>
<line x1="627.17" y1="32.86" x2="627.17" y2="44.17" stroke="#c58ad0" stroke-width="0.8"/>
<line x1="629.22" y1="32.42" x2="629.22" y2="43.59" stroke="#c58ad0" stroke-width="0.8"/>
<polygon points="560.71,50.97 556.51,48.87 556.51,53.07" fill="#9a3fa6"/>
<polygon points="562.69,49.43 558.49,47.33 558.49,51.53" fill="#9a3fa6"/>
<polygon points="564.98,49.24 560.78,47.14 560.78,51.34" fill="#9a3fa6"/>
<polygon points="566.94,49.86 562.14,47.46 562.14,52.26" fill="#9a3fa6"/>
<polygon points="571.43,48.36 566.63,45.96 566.63,50.76" fill="#9a3fa6"/>
<polygon points="575.54,47.35 570.74,44.95 570.74,49.75" fill="#9a3fa6"/>
<polygon points="580.42,46.79 575.62,44.39 575.62,49.19" fill="#9a3fa6"/>
<polygon points="585.32,46.18 580.52,43.78 580.52,48.58" fill="#9a3fa6"/>
<polygon points="590,46.35 585.2,43.95 585.2,48.75" fill="#9a3fa6"/>
<polygon points="594.73,44.95 589.93,42.55 589.93,47.35" fill="#9a3fa6"/>
<polygon points="600.03,43.45 595.23,41.05 595.23,45.85" fill="#9a3fa6"/>
<polygon points="604.26,43.91 599.46,41.51 599.46,46.31" fill="#9a3fa6"/>
<polygon points="609.48,41.99 604.68,39.59 604.68,44.39" fill="#9a3fa6"/>
<polygon points="613.44,42.07 609.24,39.97 609.24,44.17" fill="#9a3fa6"/>
<polygon points="615.68,40.83 611.48,38.73 611.48,42.93" fill="#9a3fa6"/>
<polygon points="617.94,41.55 613.74,39.45 613.74,43.65" fill="#9a3fa6"/>
<polygon points="619.88,40.49 615.68,38.39 615.68,42.59" fill="#9a3fa6"/>
<polygon points="621.38,39.64 617.18,37.54 617.18,41.74" fill="#9a3fa6"/>
<polygon points="623.64,39.58 619.44,37.48 619.44,41.68" fill="#9a3fa6"/>
<polygon points="625.68,39.27 621.48,37.17 621.48,41.37" fill="#9a3fa6"/>
<polygon points="627.82,39.46 623.62,37.36 623.62,41.56" fill="#9a3fa6"/>
<polygon points="629.48,38.51 625.28,36.41 625.28,40.61" fill="#9a3fa6"/>
<polygon points="631.53,38.01 627.33,35.91 627.33,40.11" fill="#9a3fa6"/>
<polygon points="437.66,110.2 442.46,107.8 442.46,112.6" fill="#3b3bf8"/>
<polygon points="442.66,110.4 447.46,108 447.46,112.8" fill="#3b3bf8"/>
<line x1="445.6" y1="100" x2="445.6" y2="121" stroke="#3b3bf8" stroke-width="0.9"/>
<line x1="492.9" y1="99.9" x2="492.9" y2="106.9" stroke="#3b3bf8" stroke-width="0.9"/>
<polygon points="494.88,103.4 491.28,101.6 491.28,105.2" fill="#3b3bf8"/>
<line x1="535.83" y1="97.22" x2="535.83" y2="103.07" stroke="#f83b3b" stroke-width="0.6"/>
<polygon points="533.74,100.15 537.54,98.25 537.54,102.05" fill="#f83b3b"/>
<line x1="524.28" y1="95.93" x2="524.28" y2="99.86" stroke="#f83b3b" stroke-width="0.6"/>
<polygon points="522.19,97.9 525.99,96 525.99,99.8" fill="#f83b3b"/>
<line x1="533.5" y1="96.03" x2="533.5" y2="102.03" stroke="#f83b3b" stroke-width="0.6"/>
<polygon points="531.41,99.03 535.21,97.13 535.21,100.93" fill="#f83b3b"/>
<line x1="524.98" y1="95.39" x2="524.98" y2="100.34" stroke="#f83b3b" stroke-width="0.6"/>
<polygon points="522.89,97.86 526.69,95.96 526.69,99.76" fill="#f83b3b"/>
<line x1="535.7" y1="97.78" x2="535.7" y2="102.59" stroke="#f83b3b" stroke-width="0.6"/>
<polygon points="533.61,100.19 537.41,98.29 537.41,102.09" fill="#f83b3b"/>
<line x1="534.31" y1="98.55" x2="534.31" y2="101.95" stroke="#f83b3b" stroke-width="0.6"/>
<polygon points="532.22,100.25 536.02,98.35 536.02,102.15" fill="#f83b3b"/>
<line x1="532.91" y1="97.22" x2="532.91" y2="102.71" stroke="#f83b3b" stroke-width="0.6"/>
<polygon points="530.82,99.97 534.62,98.07 534.62,101.87" fill="#f83b3b"/>
<line x1="529.42" y1="96.4" x2="529.42" y2="101.85" stroke="#f83b3b" stroke-width="0.6"/>
<polygon points="527.33,99.12 531.13,97.22 531.13,101.02" fill="#f83b3b"/>
<line x1="531.45" y1="97.43" x2="531.45" y2="100.96" stroke="#f83b3b" stroke-width="0.6"/>
<polygon points="529.36,99.2 533.16,97.3 533.16,101.1" fill="#f83b3b"/>
<line x1="531.57" y1="98.03" x2="531.57" y2="100.35" stroke="#f83b3b" stroke-width="0.6"/>
<polygon points="529.48,99.19 533.28,97.29 533.28,101.09" fill="#f83b3b"/>
<line x1="532.31" y1="97.26" x2="532.31" y2="102.78" stroke="#f83b3b" stroke-width="0.6"/>
<polygon points="530.22,100.02 534.02,98.12 534.02,101.92" fill="#f83b3b"/>
<line x1="533.47" y1="96.68" x2="533.47" y2="101.62" stroke="#f83b3b" stroke-width="0.6"/>
<polygon points="531.38,99.15 535.18,97.25 535.18,101.05" fill="#f83b3b"/>
<line x1="531.55" y1="96.21" x2="531.55" y2="101.56" stroke="#f83b3b" stroke-width="0.6"/>
<polygon points="529.46,98.89 533.26,96.99 533.26,100.79" fill="#f83b3b"/>
<line x1="525.09" y1="97.19" x2="525.09" y2="99.31" stroke="#f83b3b" stroke-width="0.6"/>
<polygon points="523,98.25 526.8,96.35 526.8,100.15" fill="#f83b3b"/>
<line x1="531.82" y1="97.55" x2="531.82" y2="100.47" stroke="#f83b3b" stroke-width="0.6"/>
<polygon points="529.73,99.01 533.53,97.11 533.53,100.91" fill="#f83b3b"/>
<line x1="533.08" y1="97.04" x2="533.08" y2="101.5" stroke="#f83b3b" stroke-width="0.6"/>
<polygon points="530.99,99.27 534.79,97.37 534.79,101.17" fill="#f83b3b"/>
<line x1="535.97" y1="98.35" x2="535.97" y2="100.39" stroke="#f83b3b" stroke-width="0.6"/>
<polygon points="533.88,99.37 537.68,97.47 537.68,101.27" fill="#f83b3b"/>
<line x1="527.91" y1="97.24" x2="527.91" y2="100.05" stroke="#f83b3b" stroke-width="0.6"/>
<polygon points="525.82,98.64 529.62,96.74 529.62,100.54" fill="#f83b3b"/>
<line x1="526.2" y1="96.42" x2="526.2" y2="101.06" stroke="#f83b3b" stroke-width="0.6"/>
<polygon points="524.11,98.74 527.91,96.84 527.91,100.64" fill="#f83b3b"/>
<line x1="529.75" y1="97.71" x2="529.75" y2="101.02" stroke="#f83b3b" stroke-width="0.6"/>
<polygon points="527.66,99.37 531.46,97.47 531.46,101.27" fill="#f83b3b"/>
<line x1="532.66" y1="96.79" x2="532.66" y2="100.52" stroke="#f83b3b" stroke-width="0.6"/>
<polygon points="530.57,98.66 534.37,96.76 534.37,100.56" fill="#f83b3b"/>
<line x1="534.48" y1="97.52" x2="534.48" y2="103.04" stroke="#f83b3b" stroke-width="0.6"/>
<polygon points="532.39,100.28 536.19,98.38 536.19,102.18" fill="#f83b3b"/>
<line x1="538.85" y1="104.12" x2="538.85" y2="106.75" stroke="#f83b3b" stroke-width="0.6"/>
<polygon points="536.76,105.44 540.56,103.54 540.56,107.34" fill="#f83b3b"/>
<line x1="537.98" y1="102.93" x2="537.98" y2="106.6" stroke="#f83b3b" stroke-width="0.6"/>
<polygon points="535.89,104.77 539.69,102.87 539.69,106.67" fill="#f83b3b"/>
<line x1="540.47" y1="104.67" x2="540.47" y2="108.57" stroke="#f83b3b" stroke-width="0.6"/>
<polygon points="538.38,106.62 542.18,104.72 542.18,108.52" fill="#f83b3b"/>
<line x1="539.83" y1="97.38" x2="539.83" y2="101.19" stroke="#3b3bf8" stroke-width="0.6"/>
<polygon points="537.74,99.28 541.54,97.38 541.54,101.18" fill="#3b3bf8"/>
<line x1="539.83" y1="97.59" x2="539.83" y2="101.25" stroke="#3b3bf8" stroke-width="0.6"/>
<polygon points="537.74,99.42 541.54,97.52 541.54,101.32" fill="#3b3bf8"/>
<line x1="540.88" y1="98.98" x2="540.88" y2="102.24" stroke="#3b3bf8" stroke-width="0.6"/>
<polygon points="538.79,100.61 542.59,98.71 542.59,102.51" fill="#3b3bf8"/>
<line x1="567.25" y1="102.8" x2="567.25" y2="107.06" stroke="#f83b3b" stroke-width="0.6"/>
<polygon points="565.16,104.93 568.96,103.03 568.96,106.83" fill="#f83b3b"/>
<line x1="544.7" y1="96.03" x2="544.7" y2="102.39" stroke="#f83b3b" stroke-width="0.6"/>
<polygon points="542.61,99.21 546.41,97.31 546.41,101.11" fill="#f83b3b"/>
<line x1="543.72" y1="98.26" x2="543.72" y2="103.11" stroke="#f83b3b" stroke-width="0.6"/>
<polygon points="541.63,100.69 545.43,98.79 545.43,102.59" fill="#f83b3b"/>
<line x1="551.62" y1="101.04" x2="551.62" y2="103.14" stroke="#f83b3b" stroke-width="0.6"/>
<polygon points="549.53,102.09 553.33,100.19 553.33,103.99" fill="#f83b3b"/>
<line x1="546.51" y1="99.44" x2="546.51" y2="101.56" stroke="#f83b3b" stroke-width="0.6"/>
<polygon points="544.42,100.5 548.22,98.6 548.22,102.4" fill="#f83b3b"/>
<line x1="566.98" y1="101.75" x2="566.98" y2="104.46" stroke="#f83b3b" stroke-width="0.6"/>
<polygon points="564.89,103.1 568.69,101.2 568.69,105" fill="#f83b3b"/>
<line x1="543.88" y1="98.41" x2="543.88" y2="102.64" stroke="#f83b3b" stroke-width="0.6"/>
<polygon points="541.79,100.52 545.59,98.62 545.59,102.42" fill="#f83b3b"/>
<line x1="561.08" y1="100.19" x2="561.08" y2="106.23" stroke="#f83b3b" stroke-width="0.6"/>
<polygon points="558.99,103.21 562.79,101.31 562.79,105.11" fill="#f83b3b"/>
<line x1="570.77" y1="103.26" x2="570.77" y2="106.25" stroke="#f83b3b" stroke-width="0.6"/>
<polygon points="568.68,104.76 572.48,102.86 572.48,106.66" fill="#f83b3b"/>
<line x1="556.52" y1="100.34" x2="556.52" y2="102.39" stroke="#f83b3b" stroke-width="0.6"/>
<polygon points="554.43,101.37 558.23,99.47 558.23,103.27" fill="#f83b3b"/>
<line x1="556.43" y1="101.19" x2="556.43" y2="104.09" stroke="#f83b3b" stroke-width="0.6"/>
<polygon points="554.34,102.64 558.14,100.74 558.14,104.54" fill="#f83b3b"/>
<line x1="550.53" y1="98.11" x2="550.53" y2="103.6" stroke="#f83b3b" stroke-width="0.6"/>
<polygon points="548.44,100.86 552.24,98.96 552.24,102.76" fill="#f83b3b"/>
<line x1="557.85" y1="99.73" x2="557.85" y2="105.51" stroke="#f83b3b" stroke-width="0.6"/>
<polygon points="555.76,102.62 559.56,100.72 559.56,104.52" fill="#f83b3b"/>
<line x1="554.11" y1="99.21" x2="554.11" y2="105.74" stroke="#f83b3b" stroke-width="0.6"/>
<polygon points="552.02,102.47 555.82,100.57 555.82,104.37" fill="#f83b3b"/>
<line x1="545.07" y1="98.62" x2="545.07" y2="104.24" stroke="#f83b3b" stroke-width="0.6"/>
<polygon points="542.98,101.43 546.78,99.53 546.78,103.33" fill="#f83b3b"/>
<line x1="546.33" y1="97.91" x2="546.33" y2="103.04" stroke="#f83b3b" stroke-width="0.6"/>
<polygon points="544.24,100.47 548.04,98.57 548.04,102.37" fill="#f83b3b"/>
<line x1="569.34" y1="101.38" x2="569.34" y2="106.22" stroke="#f83b3b" stroke-width="0.6"/>
<polygon points="567.25,103.8 571.05,101.9 571.05,105.7" fill="#f83b3b"/>
<line x1="568.44" y1="101.31" x2="568.44" y2="108.03" stroke="#f83b3b" stroke-width="0.6"/>
<polygon points="566.35,104.67 570.15,102.77 570.15,106.57" fill="#f83b3b"/>
<line x1="556.18" y1="100.94" x2="556.18" y2="103.96" stroke="#f83b3b" stroke-width="0.6"/>
<polygon points="554.09,102.45 557.89,100.55 557.89,104.35" fill="#f83b3b"/>
<line x1="563.8" y1="101.41" x2="563.8" y2="106.62" stroke="#f83b3b" stroke-width="0.6"/>
<polygon points="561.71,104.01 565.51,102.11 565.51,105.91" fill="#f83b3b"/>
<line x1="563.67" y1="99.29" x2="563.67" y2="105.79" stroke="#f83b3b" stroke-width="0.6"/>
<polygon points="561.58,102.54 565.38,100.64 565.38,104.44" fill="#f83b3b"/>
<line x1="571.42" y1="103.22" x2="571.42" y2="107.9" stroke="#f83b3b" stroke-width="0.6"/>
<polygon points="569.33,105.56 573.13,103.66 573.13,107.46" fill="#f83b3b"/>
<line x1="565.83" y1="99.85" x2="565.83" y2="106.4" stroke="#f83b3b" stroke-width="0.6"/>
<polygon points="563.74,103.13 567.54,101.23 567.54,105.03" fill="#f83b3b"/>
<line x1="567.75" y1="102.28" x2="567.75" y2="104.69" stroke="#f83b3b" stroke-width="0.6"/>
<polygon points="565.66,103.49 569.46,101.59 569.46,105.39" fill="#f83b3b"/>
<line x1="551.05" y1="92.9" x2="551.05" y2="100.28" stroke="#3b3bf8" stroke-width="0.6"/>
<polygon points="553.14,96.59 549.34,94.69 549.34,98.49" fill="#3b3bf8"/>
<line x1="551.8" y1="91.24" x2="551.8" y2="98.9" stroke="#3b3bf8" stroke-width="0.6"/>
<polygon points="553.89,95.07 550.09,93.17 550.09,96.97" fill="#3b3bf8"/>
<line x1="545.02" y1="96.95" x2="545.02" y2="100.16" stroke="#3b3bf8" stroke-width="0.6"/>
<polygon points="547.11,98.56 543.31,96.66 543.31,100.46" fill="#3b3bf8"/>
<line x1="549.36" y1="96.08" x2="549.36" y2="99.07" stroke="#3b3bf8" stroke-width="0.6"/>
<polygon points="551.45,97.58 547.65,95.68 547.65,99.48" fill="#3b3bf8"/>
<line x1="546.38" y1="93.99" x2="546.38" y2="101.06" stroke="#3b3bf8" stroke-width="0.6"/>
<polygon points="548.47,97.52 544.67,95.62 544.67,99.42" fill="#3b3bf8"/>
<line x1="557.44" y1="91.24" x2="557.44" y2="99.86" stroke="#3b3bf8" stroke-width="0.6"/>
<polygon points="559.53,95.55 555.73,93.65 555.73,97.45" fill="#3b3bf8"/>
<line x1="551.88" y1="96.14" x2="551.88" y2="98.74" stroke="#3b3bf8" stroke-width="0.6"/>
<polygon points="553.97,97.44 550.17,95.54 550.17,99.34" fill="#3b3bf8"/>
<line x1="547.54" y1="95.28" x2="547.54" y2="99.31" stroke="#3b3bf8" stroke-width="0.6"/>
<polygon points="549.63,97.29 545.83,95.39 545.83,99.19" fill="#3b3bf8"/>
<line x1="555.66" y1="92.98" x2="555.66" y2="98.64" stroke="#3b3bf8" stroke-width="0.6"/>
<polygon points="557.75,95.81 553.95,93.91 553.95,97.71" fill="#3b3bf8"/>
<line x1="557.5" y1="93.11" x2="557.5" y2="97.29" stroke="#3b3bf8" stroke-width="0.6"/>
<polygon points="559.59,95.2 555.79,93.3 555.79,97.1" fill="#3b3bf8"/>
<line x1="550.1" y1="93.41" x2="550.1" y2="101.72" stroke="#3b3bf8" stroke-width="0.6"/>
<polygon points="552.19,97.56 548.39,95.66 548.39,99.46" fill="#3b3bf8"/>
<line x1="547.33" y1="93.79" x2="547.33" y2="102.57" stroke="#3b3bf8" stroke-width="0.6"/>
<polygon points="549.42,98.18 545.62,96.28 545.62,100.08" fill="#3b3bf8"/>
<line x1="552.39" y1="94.65" x2="552.39" y2="98.06" stroke="#3b3bf8" stroke-width="0.6"/>
<polygon points="554.48,96.35 550.68,94.45 550.68,98.25" fill="#3b3bf8"/>
<line x1="552.57" y1="93.01" x2="552.57" y2="99.25" stroke="#3b3bf8" stroke-width="0.6"/>
<polygon points="554.66,96.13 550.86,94.23 550.86,98.03" fill="#3b3bf8"/>
<line x1="544.44" y1="96.32" x2="544.44" y2="101.93" stroke="#3b3bf8" stroke-width="0.6"/>
<polygon points="546.53,99.12 542.73,97.22 542.73,101.02" fill="#3b3bf8"/>
<line x1="550.41" y1="94.41" x2="550.41" y2="100.35" stroke="#3b3bf8" stroke-width="0.6"/>
<polygon points="552.5,97.38 548.7,95.48 548.7,99.28" fill="#3b3bf8"/>
<polygon points="574.99,104.8 579.19,102.7 579.19,106.9" fill="#f83b3b"/>
<polygon points="590.69,104.6 594.89,102.5 594.89,106.7" fill="#f83b3b"/>
<polygon points="631.81,111 627.61,108.9 627.61,113.1" fill="#f83b3b"/>
<polygon points="634.81,111 630.61,108.9 630.61,113.1" fill="#f83b3b"/>
<polygon points="637.81,111 633.61,108.9 633.61,113.1" fill="#f83b3b"/>
<polygon points="640.81,111 636.61,108.9 636.61,113.1" fill="#f83b3b"/>
<line x1="630.5" y1="108.5" x2="630.5" y2="113.5" stroke="#f83b3b" stroke-width="0.7"/>
<line x1="447.6" y1="23" x2="447.6" y2="28.5" stroke="#222" stroke-width="0.9" stroke-dasharray="0.8,1.1"/>
<line x1="524.2" y1="23" x2="524.2" y2="37.5" stroke="#222" stroke-width="0.9" stroke-dasharray="0.8,1.1"/>
<line x1="557.4" y1="23" x2="557.4" y2="43" stroke="#222" stroke-width="0.9" stroke-dasharray="0.8,1.1"/>
<line x1="629.2" y1="23" x2="629.2" y2="29" stroke="#222" stroke-width="0.9" stroke-dasharray="0.8,1.1"/>
<text x="440.7" y="18.6" font-size="8.4" fill="#222" font-family="'Liberation Sans', sans-serif">–<tspan font-style="italic">B</tspan><tspan font-size="6.2" dy="2.2" fill="#444">S</tspan></text>
<text x="517.5" y="18.6" font-size="8.4" fill="#222" font-family="'Liberation Sans', sans-serif">–<tspan font-style="italic">B</tspan><tspan font-size="6.2" dy="2.2" fill="#444">B</tspan></text>
<text x="553.2" y="18.6" font-size="8.4" fill="#222" font-family="'Liberation Sans', sans-serif"><tspan font-style="italic">B</tspan><tspan font-size="6.2" dy="2.2" fill="#444">B</tspan></text>
<text x="625" y="18.6" font-size="8.4" fill="#222" font-family="'Liberation Sans', sans-serif"><tspan font-style="italic">B</tspan><tspan font-size="6.2" dy="2.2" fill="#444">S</tspan></text>
<line x1="411" y1="108.3" x2="404.5" y2="108.3" stroke="#454545" stroke-width="0.85"/>
<polygon points="405.3,107 402.5,108.3 405.3,109.6" fill="#454545"/>
<line x1="609.5" y1="101.8" x2="603" y2="101.8" stroke="#454545" stroke-width="0.85"/>
<polygon points="603.8,100.5 601,101.8 603.8,103.1" fill="#454545"/>
<line x1="481.5" y1="99.9" x2="488" y2="99.9" stroke="#a0a0a0" stroke-width="0.85"/>
<polygon points="487.2,98.6 490,99.9 487.2,101.2" fill="#a0a0a0"/>
<line x1="671" y1="110.2" x2="678" y2="110.2" stroke="#a0a0a0" stroke-width="0.85"/>
<polygon points="677.2,108.9 680,110.2 677.2,111.5" fill="#a0a0a0"/>
<path d="M441.8,95.8 Q442.2,101.8 436.6,102" fill="none" stroke="#454545" stroke-width="0.8"/>
<polygon points="438.12,100.88 435.3,102.1 438.12,103.32" fill="#454545"/>
<path d="M459.5,58 Q454,58.5 453.5,64.5" fill="none" stroke="#454545" stroke-width="0.8"/>
<polygon points="452.51,61.98 453.47,64.9 454.93,62.19" fill="#454545"/>
<path d="M520.4,67.4 Q520.2,61.8 515,61.5" fill="none" stroke="#454545" stroke-width="0.8"/>
<polygon points="516.52,60.18 513.7,61.4 516.52,62.62" fill="#454545"/>
<path d="M535.4,91.5 Q529.4,91.5 529.2,86" fill="none" stroke="#454545" stroke-width="0.8"/>
<polygon points="530.42,87.82 529.2,85 527.98,87.82" fill="#454545"/>
<path d="M547.7,91.5 Q554,91.5 554.2,86.3" fill="none" stroke="#bdbdbd" stroke-width="0.8"/>
<polygon points="555.42,88.12 554.2,85.3 552.98,88.12" fill="#bdbdbd"/>
<path d="M564.4,65.4 Q564.8,59.4 570.4,59.2" fill="none" stroke="#bdbdbd" stroke-width="0.8"/>
<polygon points="568.88,60.32 571.7,59.1 568.88,57.88" fill="#bdbdbd"/>
<path d="M619.4,53.4 Q625.2,53.8 625.4,59.2" fill="none" stroke="#bdbdbd" stroke-width="0.8"/>
<polygon points="624.18,57.88 625.4,60.7 626.62,57.88" fill="#bdbdbd"/>
<path d="M634.9,97.4 Q635.2,103.2 640.4,103.4" fill="none" stroke="#bdbdbd" stroke-width="0.8"/>
<polygon points="638.88,104.62 641.7,103.4 638.88,102.18" fill="#bdbdbd"/>
<line x1="527.6" y1="230.5" x2="526.1" y2="277" stroke="#454545" stroke-width="2.2"/>
<line x1="556.3" y1="231" x2="555.2" y2="277" stroke="#bdbdbd" stroke-width="2.2"/>
<line x1="524.3" y1="203.7" x2="524.3" y2="221.6" stroke="#1a1a1a" stroke-width="1" stroke-dasharray="2,1.4"/>
<line x1="557.7" y1="203.7" x2="557.7" y2="221.6" stroke="#1a1a1a" stroke-width="1" stroke-dasharray="2,1.4"/>
<text x="517.8" y="200" font-size="8.4" fill="#222" font-family="'Liberation Sans', sans-serif">–<tspan font-style="italic">B</tspan><tspan font-size="6.2" dy="2.2" fill="#444">B</tspan></text>
<text x="552.8" y="200" font-size="8.4" fill="#222" font-family="'Liberation Sans', sans-serif"><tspan font-style="italic">B</tspan><tspan font-size="6.2" dy="2.2" fill="#444">B</tspan></text>
<line x1="525.2" y1="224.55" x2="525.2" y2="236.75" stroke="#c58ad0" stroke-width="0.7"/>
<line x1="526.44" y1="226.88" x2="526.44" y2="235.28" stroke="#c58ad0" stroke-width="0.7"/>
<line x1="527.83" y1="222.44" x2="527.83" y2="237.91" stroke="#c58ad0" stroke-width="0.7"/>
<line x1="528.77" y1="224.42" x2="528.77" y2="238.36" stroke="#c58ad0" stroke-width="0.7"/>
<line x1="530.05" y1="224.4" x2="530.05" y2="239.57" stroke="#c58ad0" stroke-width="0.7"/>
<line x1="531.24" y1="227.25" x2="531.24" y2="236.74" stroke="#c58ad0" stroke-width="0.7"/>
<line x1="532.81" y1="222.6" x2="532.81" y2="240.75" stroke="#c58ad0" stroke-width="0.7"/>
<line x1="534.36" y1="226.76" x2="534.36" y2="237.5" stroke="#c58ad0" stroke-width="0.7"/>
<line x1="535.44" y1="220.56" x2="535.44" y2="240.4" stroke="#c58ad0" stroke-width="0.7"/>
<line x1="536.68" y1="219.72" x2="536.68" y2="240.7" stroke="#c58ad0" stroke-width="0.7"/>
<line x1="537.67" y1="228.08" x2="537.67" y2="236.09" stroke="#c58ad0" stroke-width="0.7"/>
<line x1="538.87" y1="221.82" x2="538.87" y2="238.72" stroke="#c58ad0" stroke-width="0.7"/>
<line x1="540.34" y1="226.6" x2="540.34" y2="234.05" stroke="#c58ad0" stroke-width="0.7"/>
<line x1="541.87" y1="225.77" x2="541.87" y2="238.09" stroke="#c58ad0" stroke-width="0.7"/>
<line x1="543.1" y1="227.87" x2="543.1" y2="235.76" stroke="#c58ad0" stroke-width="0.7"/>
<line x1="544.23" y1="222.59" x2="544.23" y2="238.87" stroke="#c58ad0" stroke-width="0.7"/>
<line x1="545.26" y1="225.14" x2="545.26" y2="234.16" stroke="#c58ad0" stroke-width="0.7"/>
<line x1="546.59" y1="221.68" x2="546.59" y2="241.35" stroke="#c58ad0" stroke-width="0.7"/>
<line x1="548.14" y1="228.45" x2="548.14" y2="236.18" stroke="#c58ad0" stroke-width="0.7"/>
<line x1="549.13" y1="222.33" x2="549.13" y2="239.7" stroke="#c58ad0" stroke-width="0.7"/>
<line x1="550.58" y1="222.87" x2="550.58" y2="239.15" stroke="#c58ad0" stroke-width="0.7"/>
<line x1="551.49" y1="226.6" x2="551.49" y2="233.66" stroke="#c58ad0" stroke-width="0.7"/>
<line x1="552.53" y1="226.62" x2="552.53" y2="233.18" stroke="#c58ad0" stroke-width="0.7"/>
<line x1="553.59" y1="224.28" x2="553.59" y2="238.01" stroke="#c58ad0" stroke-width="0.7"/>
<line x1="554.97" y1="227.09" x2="554.97" y2="235.29" stroke="#c58ad0" stroke-width="0.7"/>
<line x1="556.09" y1="225.59" x2="556.09" y2="234.65" stroke="#c58ad0" stroke-width="0.7"/>
<line x1="557.24" y1="221.53" x2="557.24" y2="242.38" stroke="#c58ad0" stroke-width="0.7"/>
<line x1="558.58" y1="228.48" x2="558.58" y2="235.91" stroke="#c58ad0" stroke-width="0.7"/>
<line x1="559.55" y1="219.64" x2="559.55" y2="239.91" stroke="#c58ad0" stroke-width="0.7"/>
<line x1="560.96" y1="222.16" x2="560.96" y2="239.63" stroke="#c58ad0" stroke-width="0.7"/>
<line x1="561.95" y1="224.01" x2="561.95" y2="237.02" stroke="#c58ad0" stroke-width="0.7"/>
<line x1="563.2" y1="224.82" x2="563.2" y2="237.27" stroke="#c58ad0" stroke-width="0.7"/>
<line x1="564.28" y1="228.18" x2="564.28" y2="234.38" stroke="#c58ad0" stroke-width="0.7"/>
<line x1="565.32" y1="222.23" x2="565.32" y2="240.89" stroke="#c58ad0" stroke-width="0.7"/>
<line x1="566.59" y1="223.7" x2="566.59" y2="236.51" stroke="#c58ad0" stroke-width="0.7"/>
<polygon points="522.81,231.71 527.01,229.61 527.01,233.81" fill="#9a3fa6"/>
<polygon points="522.62,229.64 526.82,227.54 526.82,231.74" fill="#9a3fa6"/>
<polygon points="523.75,230.85 527.95,228.75 527.95,232.95" fill="#9a3fa6"/>
<polygon points="524.38,232.29 528.58,230.19 528.58,234.39" fill="#9a3fa6"/>
<polygon points="525.81,231.58 530.01,229.48 530.01,233.68" fill="#9a3fa6"/>
<polygon points="525.44,231.29 529.64,229.19 529.64,233.39" fill="#9a3fa6"/>
<polygon points="526.47,231.18 530.67,229.08 530.67,233.28" fill="#9a3fa6"/>
<polygon points="526.71,232.63 530.91,230.53 530.91,234.73" fill="#9a3fa6"/>
<polygon points="528.07,229.88 532.27,227.78 532.27,231.98" fill="#9a3fa6"/>
<polygon points="527.96,231.73 532.16,229.63 532.16,233.83" fill="#9a3fa6"/>
<polygon points="528.85,232 533.05,229.9 533.05,234.1" fill="#9a3fa6"/>
<polygon points="529.23,232.31 533.43,230.21 533.43,234.41" fill="#9a3fa6"/>
<polygon points="530.71,231.54 534.91,229.44 534.91,233.64" fill="#9a3fa6"/>
<polygon points="530.42,231.81 534.62,229.71 534.62,233.91" fill="#9a3fa6"/>
<polygon points="531.7,231.65 535.9,229.55 535.9,233.75" fill="#9a3fa6"/>
<polygon points="532.02,230.2 536.22,228.1 536.22,232.3" fill="#9a3fa6"/>
<polygon points="533.02,228.94 537.22,226.84 537.22,231.04" fill="#9a3fa6"/>
<polygon points="533.23,231.33 537.43,229.23 537.43,233.43" fill="#9a3fa6"/>
<polygon points="534.72,229.78 538.92,227.68 538.92,231.88" fill="#9a3fa6"/>
<polygon points="534.24,231.43 538.44,229.33 538.44,233.53" fill="#9a3fa6"/>
<polygon points="535.41,231.41 539.61,229.31 539.61,233.51" fill="#9a3fa6"/>
<polygon points="535.27,230.93 539.47,228.83 539.47,233.03" fill="#9a3fa6"/>
<polygon points="536.67,232.7 540.87,230.6 540.87,234.8" fill="#9a3fa6"/>
<polygon points="536.77,231.56 540.97,229.46 540.97,233.66" fill="#9a3fa6"/>
<polygon points="537.65,232.62 541.85,230.52 541.85,234.72" fill="#9a3fa6"/>
<polygon points="538.22,231.24 542.42,229.14 542.42,233.34" fill="#9a3fa6"/>
<polygon points="539.48,229.88 543.68,227.78 543.68,231.98" fill="#9a3fa6"/>
<polygon points="539.32,229.09 543.52,226.99 543.52,231.19" fill="#9a3fa6"/>
<polygon points="540.47,230.33 544.67,228.23 544.67,232.43" fill="#9a3fa6"/>
<polygon points="541.12,229.85 545.32,227.75 545.32,231.95" fill="#9a3fa6"/>
<polygon points="541.92,230.99 546.12,228.89 546.12,233.09" fill="#9a3fa6"/>
<polygon points="541.97,232.58 546.17,230.48 546.17,234.68" fill="#9a3fa6"/>
<polygon points="543.06,232.68 547.26,230.58 547.26,234.78" fill="#9a3fa6"/>
<polygon points="542.61,231.98 546.81,229.88 546.81,234.08" fill="#9a3fa6"/>
<polygon points="549.11,231.17 544.91,229.07 544.91,233.27" fill="#9a3fa6"/>
<polygon points="549.25,229.07 545.05,226.97 545.05,231.17" fill="#9a3fa6"/>
<polygon points="550.43,229.51 546.23,227.41 546.23,231.61" fill="#9a3fa6"/>
<polygon points="550.45,229.54 546.25,227.44 546.25,231.64" fill="#9a3fa6"/>
<polygon points="551.09,231.22 546.89,229.12 546.89,233.32" fill="#9a3fa6"/>
<polygon points="551.38,232.49 547.18,230.39 547.18,234.59" fill="#9a3fa6"/>
<polygon points="552.96,230.9 548.76,228.8 548.76,233" fill="#9a3fa6"/>
<polygon points="552.71,230.29 548.51,228.19 548.51,232.39" fill="#9a3fa6"/>
<polygon points="553.85,231.39 549.65,229.29 549.65,233.49" fill="#9a3fa6"/>
<polygon points="553.98,229.98 549.78,227.88 549.78,232.08" fill="#9a3fa6"/>
<polygon points="554.45,230.02 550.25,227.92 550.25,232.12" fill="#9a3fa6"/>
<polygon points="554.47,229.83 550.27,227.73 550.27,231.93" fill="#9a3fa6"/>
<polygon points="556.1,229.5 551.9,227.4 551.9,231.6" fill="#9a3fa6"/>
<polygon points="556.21,230.38 552.01,228.28 552.01,232.48" fill="#9a3fa6"/>
<polygon points="556.92,231.74 552.72,229.64 552.72,233.84" fill="#9a3fa6"/>
<polygon points="557.63,232.66 553.43,230.56 553.43,234.76" fill="#9a3fa6"/>
<polygon points="558.73,229.18 554.53,227.08 554.53,231.28" fill="#9a3fa6"/>
<polygon points="558.39,230.53 554.19,228.43 554.19,232.63" fill="#9a3fa6"/>
<polygon points="559.35,232.6 555.15,230.5 555.15,234.7" fill="#9a3fa6"/>
<polygon points="559.9,230.89 555.7,228.79 555.7,232.99" fill="#9a3fa6"/>
<polygon points="560.86,231.65 556.66,229.55 556.66,233.75" fill="#9a3fa6"/>
<polygon points="561.14,232.62 556.94,230.52 556.94,234.72" fill="#9a3fa6"/>
<polygon points="561.55,231.19 557.35,229.09 557.35,233.29" fill="#9a3fa6"/>
<polygon points="561.82,231.27 557.62,229.17 557.62,233.37" fill="#9a3fa6"/>
<polygon points="562.91,229.67 558.71,227.57 558.71,231.77" fill="#9a3fa6"/>
<polygon points="562.97,230.91 558.77,228.81 558.77,233.01" fill="#9a3fa6"/>
<polygon points="564.39,230.58 560.19,228.48 560.19,232.68" fill="#9a3fa6"/>
<polygon points="564.07,230.63 559.87,228.53 559.87,232.73" fill="#9a3fa6"/>
<polygon points="565.45,231.11 561.25,229.01 561.25,233.21" fill="#9a3fa6"/>
<polygon points="565.54,231.86 561.34,229.76 561.34,233.96" fill="#9a3fa6"/>
<polygon points="566.95,232.69 562.75,230.59 562.75,234.79" fill="#9a3fa6"/>
<polygon points="566.38,231.69 562.18,229.59 562.18,233.79" fill="#9a3fa6"/>
<polygon points="567.94,229.33 563.74,227.23 563.74,231.43" fill="#9a3fa6"/>
<polygon points="567.73,231.88 563.53,229.78 563.53,233.98" fill="#9a3fa6"/>
<polygon points="568.72,230.26 564.52,228.16 564.52,232.36" fill="#9a3fa6"/>
<polygon points="568.95,231.5 564.75,229.4 564.75,233.6" fill="#9a3fa6"/>
<polygon points="566,229.2 569.2,231 566,232.8" fill="#555"/>
<line x1="512.1" y1="276.48" x2="512.1" y2="286.61" stroke="#5a5af5" stroke-width="0.7"/>
<line x1="513.26" y1="276.7" x2="513.26" y2="282.86" stroke="#5a5af5" stroke-width="0.7"/>
<line x1="514.43" y1="278.43" x2="514.43" y2="284.37" stroke="#5a5af5" stroke-width="0.7"/>
<line x1="515.69" y1="272.98" x2="515.69" y2="284.75" stroke="#5a5af5" stroke-width="0.7"/>
<line x1="516.6" y1="273.54" x2="516.6" y2="286.76" stroke="#5a5af5" stroke-width="0.7"/>
<line x1="517.55" y1="272.4" x2="517.55" y2="286.71" stroke="#5a5af5" stroke-width="0.7"/>
<line x1="518.94" y1="275.06" x2="518.94" y2="282.62" stroke="#5a5af5" stroke-width="0.7"/>
<line x1="520.29" y1="277.73" x2="520.29" y2="283.71" stroke="#5a5af5" stroke-width="0.7"/>
<line x1="521.61" y1="272.72" x2="521.61" y2="286.42" stroke="#5a5af5" stroke-width="0.7"/>
<line x1="522.44" y1="276.62" x2="522.44" y2="285.02" stroke="#5a5af5" stroke-width="0.7"/>
<line x1="523.27" y1="274.41" x2="523.27" y2="283.7" stroke="#5a5af5" stroke-width="0.7"/>
<line x1="524.24" y1="276.22" x2="524.24" y2="285.62" stroke="#5a5af5" stroke-width="0.7"/>
<line x1="525.29" y1="272.22" x2="525.29" y2="285.73" stroke="#5a5af5" stroke-width="0.7"/>
<line x1="526.47" y1="272.41" x2="526.47" y2="288.43" stroke="#5a5af5" stroke-width="0.7"/>
<line x1="527.33" y1="273.63" x2="527.33" y2="289.59" stroke="#5a5af5" stroke-width="0.7"/>
<line x1="528.45" y1="272.68" x2="528.45" y2="287.32" stroke="#5a5af5" stroke-width="0.7"/>
<line x1="529.3" y1="275.17" x2="529.3" y2="283.98" stroke="#5a5af5" stroke-width="0.7"/>
<line x1="530.15" y1="271.77" x2="530.15" y2="287.99" stroke="#5a5af5" stroke-width="0.7"/>
<line x1="531.35" y1="277.47" x2="531.35" y2="285.45" stroke="#5a5af5" stroke-width="0.7"/>
<line x1="532.48" y1="275.06" x2="532.48" y2="284.45" stroke="#5a5af5" stroke-width="0.7"/>
<line x1="533.66" y1="274.89" x2="533.66" y2="284.64" stroke="#5a5af5" stroke-width="0.7"/>
<line x1="534.69" y1="276.17" x2="534.69" y2="283.51" stroke="#5a5af5" stroke-width="0.7"/>
<line x1="535.77" y1="273.12" x2="535.77" y2="287.69" stroke="#5a5af5" stroke-width="0.7"/>
<line x1="536.7" y1="272.81" x2="536.7" y2="287.85" stroke="#5a5af5" stroke-width="0.7"/>
<line x1="537.71" y1="276.84" x2="537.71" y2="283.96" stroke="#5a5af5" stroke-width="0.7"/>
<line x1="538.95" y1="273.24" x2="538.95" y2="288.81" stroke="#5a5af5" stroke-width="0.7"/>
<line x1="540.26" y1="276.87" x2="540.26" y2="282.13" stroke="#5a5af5" stroke-width="0.7"/>
<line x1="541.1" y1="274.49" x2="541.1" y2="286.01" stroke="#5a5af5" stroke-width="0.7"/>
<line x1="541.97" y1="272.12" x2="541.97" y2="288.71" stroke="#5a5af5" stroke-width="0.7"/>
<line x1="543.26" y1="273.36" x2="543.26" y2="288.01" stroke="#5a5af5" stroke-width="0.7"/>
<line x1="544.43" y1="273.02" x2="544.43" y2="284.59" stroke="#5a5af5" stroke-width="0.7"/>
<line x1="545.69" y1="278.12" x2="545.69" y2="284.13" stroke="#5a5af5" stroke-width="0.7"/>
<line x1="546.62" y1="271.94" x2="546.62" y2="285.78" stroke="#5a5af5" stroke-width="0.7"/>
<line x1="547.68" y1="278.47" x2="547.68" y2="284.49" stroke="#5a5af5" stroke-width="0.7"/>
<line x1="548.63" y1="277.27" x2="548.63" y2="283.99" stroke="#5a5af5" stroke-width="0.7"/>
<line x1="549.92" y1="274.59" x2="549.92" y2="287.38" stroke="#5a5af5" stroke-width="0.7"/>
<line x1="550.94" y1="275.56" x2="550.94" y2="283.21" stroke="#5a5af5" stroke-width="0.7"/>
<line x1="552.13" y1="275.42" x2="552.13" y2="286.68" stroke="#5a5af5" stroke-width="0.7"/>
<line x1="553.52" y1="276.18" x2="553.52" y2="285.91" stroke="#5a5af5" stroke-width="0.7"/>
<line x1="554.52" y1="271.37" x2="554.52" y2="287.99" stroke="#5a5af5" stroke-width="0.7"/>
<line x1="555.65" y1="275.29" x2="555.65" y2="286.21" stroke="#5a5af5" stroke-width="0.7"/>
<polygon points="509.97,280.36 514.17,278.26 514.17,282.46" fill="#3b3bf8"/>
<polygon points="510.12,281.12 514.32,279.02 514.32,283.22" fill="#3b3bf8"/>
<polygon points="511.21,279.81 515.41,277.71 515.41,281.91" fill="#3b3bf8"/>
<polygon points="511.23,280.93 515.43,278.83 515.43,283.03" fill="#3b3bf8"/>
<polygon points="512.39,281.55 516.59,279.45 516.59,283.65" fill="#3b3bf8"/>
<polygon points="512.49,281.91 516.69,279.81 516.69,284.01" fill="#3b3bf8"/>
<polygon points="513.4,280.82 517.6,278.72 517.6,282.92" fill="#3b3bf8"/>
<polygon points="513.62,281.12 517.82,279.02 517.82,283.22" fill="#3b3bf8"/>
<polygon points="514.23,279.86 518.43,277.76 518.43,281.96" fill="#3b3bf8"/>
<polygon points="514.48,278.64 518.68,276.54 518.68,280.74" fill="#3b3bf8"/>
<polygon points="515.14,282.36 519.34,280.26 519.34,284.46" fill="#3b3bf8"/>
<polygon points="515,278.74 519.2,276.64 519.2,280.84" fill="#3b3bf8"/>
<polygon points="516.46,279.87 520.66,277.77 520.66,281.97" fill="#3b3bf8"/>
<polygon points="516.28,282.27 520.48,280.17 520.48,284.37" fill="#3b3bf8"/>
<polygon points="517.67,279.36 521.87,277.26 521.87,281.46" fill="#3b3bf8"/>
<polygon points="518.2,280.85 522.4,278.75 522.4,282.95" fill="#3b3bf8"/>
<polygon points="518.95,278.79 523.15,276.69 523.15,280.89" fill="#3b3bf8"/>
<polygon points="519.37,280.02 523.57,277.92 523.57,282.12" fill="#3b3bf8"/>
<polygon points="519.76,282 523.96,279.9 523.96,284.1" fill="#3b3bf8"/>
<polygon points="519.88,278.48 524.08,276.38 524.08,280.58" fill="#3b3bf8"/>
<polygon points="520.75,278.96 524.95,276.86 524.95,281.06" fill="#3b3bf8"/>
<polygon points="521.04,281.16 525.24,279.06 525.24,283.26" fill="#3b3bf8"/>
<polygon points="521.68,278.99 525.88,276.89 525.88,281.09" fill="#3b3bf8"/>
<polygon points="521.67,279.24 525.87,277.14 525.87,281.34" fill="#3b3bf8"/>
<polygon points="522.83,281.33 527.03,279.23 527.03,283.43" fill="#3b3bf8"/>
<polygon points="523.24,280.41 527.44,278.31 527.44,282.51" fill="#3b3bf8"/>
<polygon points="523.96,280.11 528.16,278.01 528.16,282.21" fill="#3b3bf8"/>
<polygon points="524.49,281.9 528.69,279.8 528.69,284" fill="#3b3bf8"/>
<polygon points="525.06,279.51 529.26,277.41 529.26,281.61" fill="#3b3bf8"/>
<polygon points="525,282.21 529.2,280.11 529.2,284.31" fill="#3b3bf8"/>
<polygon points="525.78,278.97 529.98,276.87 529.98,281.07" fill="#3b3bf8"/>
<polygon points="526.38,282.17 530.58,280.07 530.58,284.27" fill="#3b3bf8"/>
<polygon points="527.01,279.69 531.21,277.59 531.21,281.79" fill="#3b3bf8"/>
<polygon points="526.81,280.27 531.01,278.17 531.01,282.37" fill="#3b3bf8"/>
<polygon points="527.96,282.36 532.16,280.26 532.16,284.46" fill="#3b3bf8"/>
<polygon points="527.45,279.05 531.65,276.95 531.65,281.15" fill="#3b3bf8"/>
<polygon points="528.94,280.08 533.14,277.98 533.14,282.18" fill="#3b3bf8"/>
<polygon points="529.21,281.51 533.41,279.41 533.41,283.61" fill="#3b3bf8"/>
<polygon points="529.9,280.67 534.1,278.57 534.1,282.77" fill="#3b3bf8"/>
<polygon points="530.03,278.69 534.23,276.59 534.23,280.79" fill="#3b3bf8"/>
<polygon points="531.65,279.14 535.85,277.04 535.85,281.24" fill="#3b3bf8"/>
<polygon points="531.46,280.27 535.66,278.17 535.66,282.37" fill="#3b3bf8"/>
<polygon points="536.81,282.37 532.61,280.27 532.61,284.47" fill="#3b3bf8"/>
<polygon points="536.72,280.35 532.52,278.25 532.52,282.45" fill="#3b3bf8"/>
<polygon points="537.69,281.39 533.49,279.29 533.49,283.49" fill="#3b3bf8"/>
<polygon points="538.36,281.61 534.16,279.51 534.16,283.71" fill="#3b3bf8"/>
<polygon points="538.68,281.62 534.48,279.52 534.48,283.72" fill="#3b3bf8"/>
<polygon points="539.18,279.19 534.98,277.09 534.98,281.29" fill="#3b3bf8"/>
<polygon points="540,278.43 535.8,276.33 535.8,280.53" fill="#3b3bf8"/>
<polygon points="540.38,280.06 536.18,277.96 536.18,282.16" fill="#3b3bf8"/>
<polygon points="541.55,280.58 537.35,278.48 537.35,282.68" fill="#3b3bf8"/>
<polygon points="541.5,279.34 537.3,277.24 537.3,281.44" fill="#3b3bf8"/>
<polygon points="542.9,279.83 538.7,277.73 538.7,281.93" fill="#3b3bf8"/>
<polygon points="542.83,278.4 538.63,276.3 538.63,280.5" fill="#3b3bf8"/>
<polygon points="543.45,278.92 539.25,276.82 539.25,281.02" fill="#3b3bf8"/>
<polygon points="543.14,280.31 538.94,278.21 538.94,282.41" fill="#3b3bf8"/>
<polygon points="544.13,281.66 539.93,279.56 539.93,283.76" fill="#3b3bf8"/>
<polygon points="543.94,279.37 539.74,277.27 539.74,281.47" fill="#3b3bf8"/>
<polygon points="545.54,279.35 541.34,277.25 541.34,281.45" fill="#3b3bf8"/>
<polygon points="545.46,281.15 541.26,279.05 541.26,283.25" fill="#3b3bf8"/>
<polygon points="546.43,281.02 542.23,278.92 542.23,283.12" fill="#3b3bf8"/>
<polygon points="546.71,279.73 542.51,277.63 542.51,281.83" fill="#3b3bf8"/>
<polygon points="548.27,282.25 544.07,280.15 544.07,284.35" fill="#3b3bf8"/>
<polygon points="547.61,280.88 543.41,278.78 543.41,282.98" fill="#3b3bf8"/>
<polygon points="549.1,279.66 544.9,277.56 544.9,281.76" fill="#3b3bf8"/>
<polygon points="548.98,279.04 544.78,276.94 544.78,281.14" fill="#3b3bf8"/>
<polygon points="549.6,280.02 545.4,277.92 545.4,282.12" fill="#3b3bf8"/>
<polygon points="550.23,282.36 546.03,280.26 546.03,284.46" fill="#3b3bf8"/>
<polygon points="551.03,278.91 546.83,276.81 546.83,281.01" fill="#3b3bf8"/>
<polygon points="550.84,279.28 546.64,277.18 546.64,281.38" fill="#3b3bf8"/>
<polygon points="552.07,280.37 547.87,278.27 547.87,282.47" fill="#3b3bf8"/>
<polygon points="552.14,279.48 547.94,277.38 547.94,281.58" fill="#3b3bf8"/>
<polygon points="553.05,280.93 548.85,278.83 548.85,283.03" fill="#3b3bf8"/>
<polygon points="553.43,278.88 549.23,276.78 549.23,280.98" fill="#3b3bf8"/>
<polygon points="554.8,279.45 550.6,277.35 550.6,281.55" fill="#3b3bf8"/>
<polygon points="554.62,280.48 550.42,278.38 550.42,282.58" fill="#3b3bf8"/>
<polygon points="556.1,279.46 551.9,277.36 551.9,281.56" fill="#3b3bf8"/>
<polygon points="555.55,278.41 551.35,276.31 551.35,280.51" fill="#3b3bf8"/>
<polygon points="556.97,278.42 552.77,276.32 552.77,280.52" fill="#3b3bf8"/>
<polygon points="556.57,281.12 552.37,279.02 552.37,283.22" fill="#3b3bf8"/>
<polygon points="558.23,279.77 554.03,277.67 554.03,281.87" fill="#3b3bf8"/>
<polygon points="557.63,280.61 553.43,278.51 553.43,282.71" fill="#3b3bf8"/>
<polygon points="513.4,278.4 510.4,280.2 513.4,282" fill="#555"/>
<path d="M537,241 Q531,241 530.5,246.5" fill="none" stroke="#454545" stroke-width="0.8"/>
<polygon points="529.51,244.18 530.47,247.1 531.93,244.39" fill="#454545"/>
<path d="M544.5,270 Q550,269.5 550.5,264" fill="none" stroke="#bdbdbd" stroke-width="0.8"/>
<polygon points="551.72,266.22 550.5,263.4 549.28,266.22" fill="#bdbdbd"/>
</svg>
</body></html>
